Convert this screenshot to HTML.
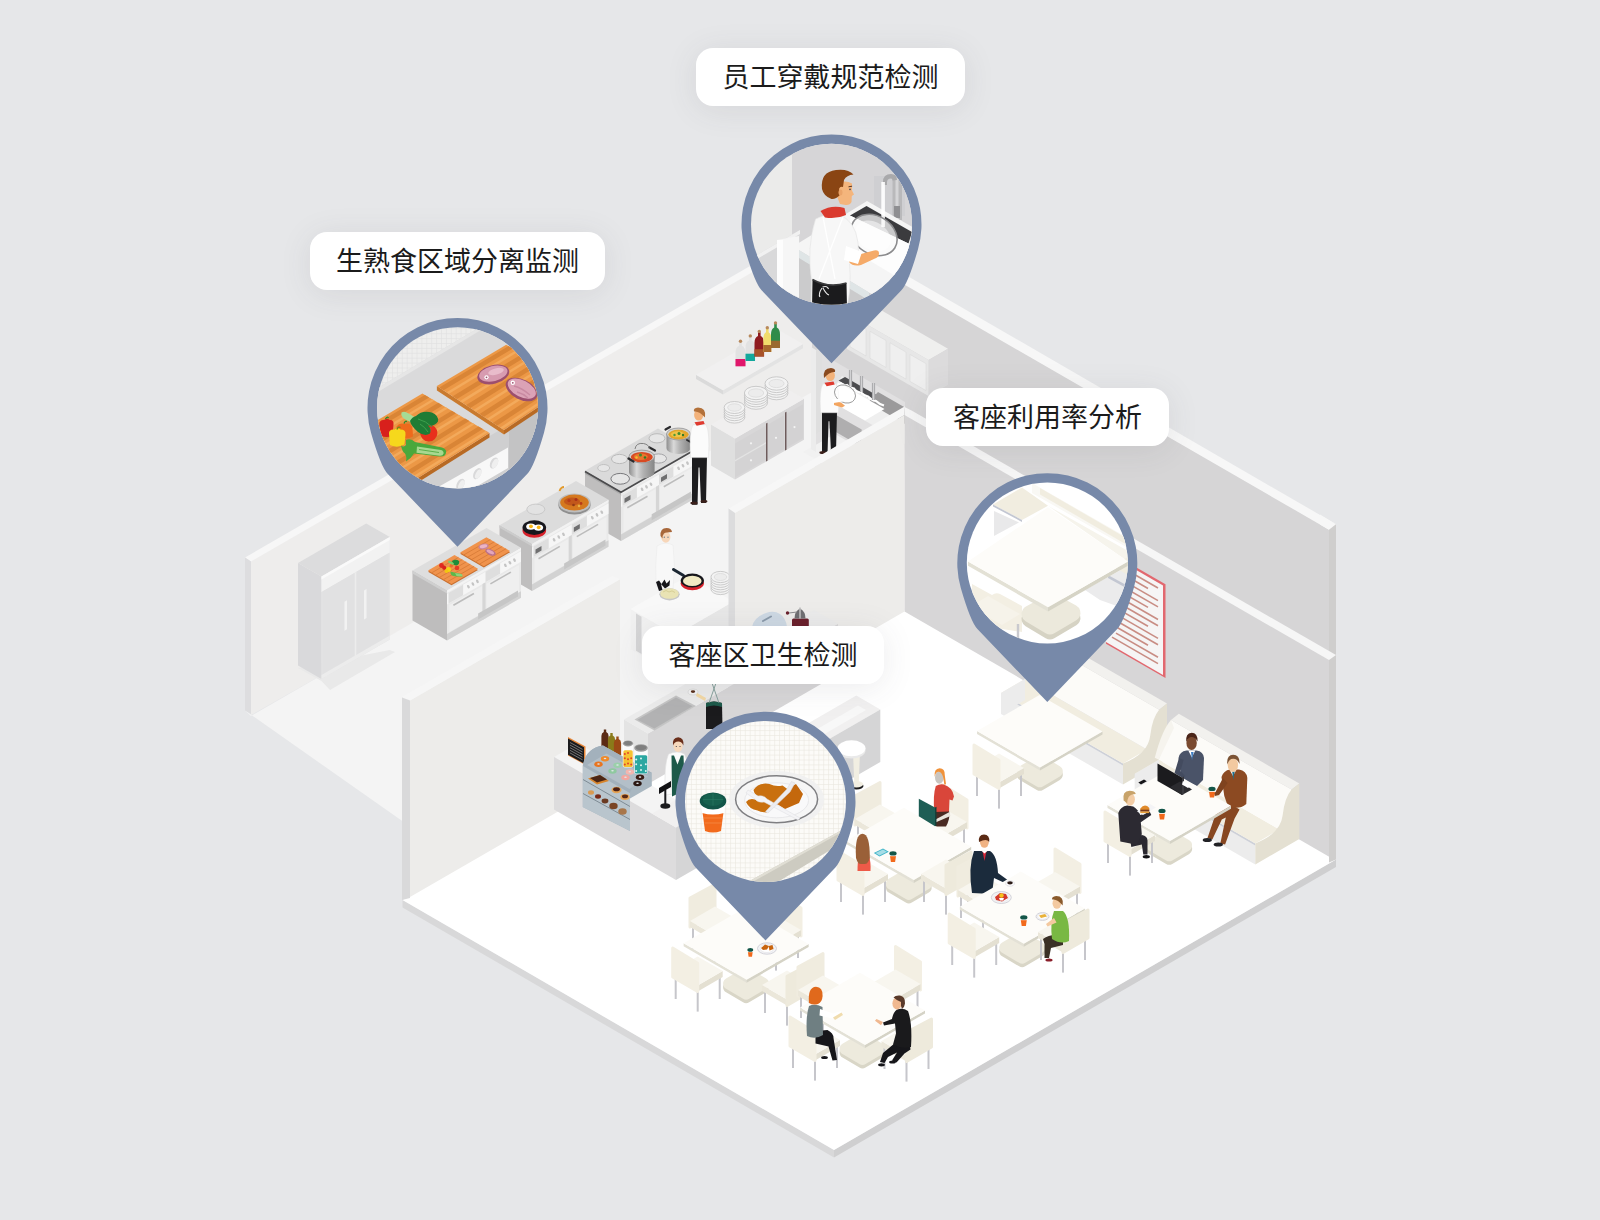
<!DOCTYPE html>
<html lang="zh-CN">
<head>
<meta charset="utf-8">
<title>智慧餐厅场景</title>
<style>
html,body{margin:0;padding:0;background:#e6e7e9;}
body{width:1600px;height:1220px;overflow:hidden;position:relative;font-family:"Liberation Sans","Noto Sans CJK SC",sans-serif;}
svg{position:absolute;left:0;top:0;display:block;}
.lb{position:absolute;height:57.5px;line-height:60.5px;border-radius:17px;background:#fff;color:#1b1b1b;font-size:27px;text-align:center;box-shadow:0 4px 32px rgba(70,72,80,.10);white-space:nowrap;letter-spacing:0;}
</style>
</head>
<body>
<svg width="1600" height="1220" viewBox="0 0 1600 1220">
<rect width="1600" height="1220" fill="#e6e7e9"/>
<polygon points="251,561 826,229.1 826,390 251,715" fill="#eeedec"/>
<polygon points="245,557.5 826,222.1 826,229.6 251,561.5" fill="#f7f7f7"/>
<polygon points="245,557.5 251,561.5 251,714 245,710.5" fill="#dddddf"/>
<polygon points="812,230.7 1331,530.3 1331,760 812,470" fill="#d6d5d6"/>
<polygon points="812,220.7 1336,524.2 1329,529.7 812,231.2" fill="#f7f7f7"/>
<polygon points="245,710.5 403,821.5 640,760 920,600 905,420 826,384 251,716" fill="#f4f4f4"/>
<g opacity="0.96">
<polygon points="298,668 321.5,681 330,690 395,652 389.8,650" fill="#e9e9e9"/>
<polygon points="321.5,679 389.8,639.6 389.8,537.1 321.5,576.5" fill="#e3e3e4"/>
<polygon points="321.5,679 298,665.4 298,562.9 321.5,576.5" fill="#d9d9db"/>
<polygon points="321.5,576.5 389.8,537.1 366.2,523.5 298,562.9" fill="#dcdcdd"/>
<polygon points="321.5,592 389.8,552.6 389.8,537.1 321.5,576.5" fill="#f3f3f3"/>
<polygon points="321.5,579.5 389.8,540.1 389.8,537.1 321.5,576.5" fill="#fbfbfb"/>
<polygon points="354.5,656.9 356.5,655.8 356.5,571.8 354.5,572.9" fill="#ececec"/>
<polygon points="322.5,675.4 354.5,656.9 354.5,572.9 322.5,591.4" fill="#e1e1e2"/>
<polygon points="356.5,655.8 388.5,637.3 388.5,553.3 356.5,571.8" fill="#e1e1e2"/>
<polygon points="344.5,630.7 347,629.3 347,600.3 344.5,601.7" fill="#f3f3f3"/>
<polygon points="364,619.5 366.5,618 366.5,589 364,590.5" fill="#f3f3f3"/>
<polygon points="321.5,679 389.8,639.6 389.8,635.6 321.5,675" fill="#ececec"/>
</g>
<polygon points="621,541 694,498.9 694,449.4 621,491.5" fill="#e9e9e9"/>
<polygon points="621,541 585,520.2 585,470.7 621,491.5" fill="#bfbebe"/>
<polygon points="621,491.5 694,449.4 658,428.6 585,470.7" fill="#dadada"/>
<polygon points="621,507 694,464.9 694,454.4 621,496.5" fill="#f6f6f6"/>
<polygon points="622.5,506.1 636.9,497.8 636.9,487.3 622.5,495.6" fill="#dedede"/>
<polygon points="624.5,503 630.5,499.5 630.5,495 624.5,498.5" fill="#6f6f70"/>
<ellipse cx="642.1" cy="489.3" rx="1.2" ry="1.9" fill="#c4c4c4" transform="rotate(-30 642.1 489.3)"/>
<ellipse cx="646.5" cy="486.8" rx="1.2" ry="1.9" fill="#c4c4c4" transform="rotate(-30 646.5 486.8)"/>
<ellipse cx="651" cy="484.2" rx="1.2" ry="1.9" fill="#c4c4c4" transform="rotate(-30 651 484.2)"/>
<polygon points="623.5,532.6 655.5,514.1 655.5,489.1 623.5,507.6" fill="#efefef"/>
<line x1="627.3" y1="507.8" x2="647.5" y2="496.2" stroke="#bcbcbc" stroke-width="1.6"/>
<polygon points="659,485.1 673.4,476.7 673.4,466.2 659,474.6" fill="#dedede"/>
<polygon points="661,481.9 667,478.4 667,473.9 661,477.4" fill="#6f6f70"/>
<ellipse cx="678.6" cy="468.3" rx="1.2" ry="1.9" fill="#c4c4c4" transform="rotate(-30 678.6 468.3)"/>
<ellipse cx="683" cy="465.7" rx="1.2" ry="1.9" fill="#c4c4c4" transform="rotate(-30 683 465.7)"/>
<ellipse cx="687.5" cy="463.1" rx="1.2" ry="1.9" fill="#c4c4c4" transform="rotate(-30 687.5 463.1)"/>
<polygon points="660,511.5 692,493 692,468 660,486.5" fill="#efefef"/>
<line x1="663.8" y1="486.8" x2="684" y2="475.1" stroke="#bcbcbc" stroke-width="1.6"/>
<polygon points="656,520.8 659,519.1 659,485.1 656,486.8" fill="#d6d6d6"/>
<polygon points="621,541 694,498.9 694,492.4 621,534.5" fill="#d2d2d2"/>
<polygon points="651.7,520.3 691,497.6 691,491.6 651.7,514.3" fill="#c6c6c6"/>
<polygon points="585,470.7 621,491.5 621,494.7 585,473.9" fill="#a9a9a9"/>
<polygon points="621,491.5 694,449.4 694,452.4 621,494.5" fill="#f0f0f0"/>
<path d="M585 471.5 L621 492.3 L694 450.2" fill="none" stroke="#4b4b4d" stroke-width="1.7"/>
<ellipse cx="603.7" cy="468" rx="6" ry="3.5" fill="#e6e6e6" stroke="#bdbdbd" stroke-width="0.9"/>
<ellipse cx="619.5" cy="459" rx="8" ry="4.6" fill="#e6e6e6" stroke="#b5b5b5" stroke-width="0.9"/>
<ellipse cx="620.2" cy="478.8" rx="9.3" ry="5.4" fill="#e6e6e6" stroke="#6d6d70" stroke-width="0.9"/>
<ellipse cx="658.5" cy="458.5" rx="8" ry="4.6" fill="#e6e6e6" stroke="#9d9da0" stroke-width="0.9"/>
<ellipse cx="657" cy="438.3" rx="8" ry="4.6" fill="#e6e6e6" stroke="#b5b5b5" stroke-width="0.9"/>
<defs><linearGradient id="potg" x1="0" x2="1" y1="0" y2="0"><stop offset="0" stop-color="#8e8e8e"/><stop offset="0.3" stop-color="#d9d9d9"/><stop offset="0.55" stop-color="#b3b3b3"/><stop offset="1" stop-color="#858585"/></linearGradient></defs>
<path d="M629 456.5 v15.5 a12.8 6.4 0 0 0 25.6 0 v-15.5 z" fill="url(#potg)"/>
<ellipse cx="641.8" cy="456.5" rx="12.8" ry="6.4" fill="#cfcfcf" stroke="#8a8a8a" stroke-width="0.7"/>
<ellipse cx="641.8" cy="457.1" rx="11" ry="5.2" fill="#d84a22"/>
<ellipse cx="640.8" cy="456.8" rx="7" ry="3.2" fill="#e8762e"/>
<circle cx="640.5" cy="455" r="1.5" fill="#3b8c2e"/>
<circle cx="645" cy="457.5" r="1.3" fill="#2f7a28"/>
<circle cx="636.5" cy="457.5" r="1.2" fill="#f1c232"/>
<path d="M628.5 458.5 l5 3" fill="none" stroke="#2b2b2d" stroke-width="2.2" stroke-linecap="round"/>
<path d="M649.5 447.5 l5.5 3" fill="none" stroke="#2b2b2d" stroke-width="2.2" stroke-linecap="round"/>
<path d="M635 449 q1 -6.5 8.5 -5.5 q5.5 1 6 5.5" fill="none" stroke="#777" stroke-width="0.9"/>
<path d="M666.5 434 v14 a12 6 0 0 0 24 0 v-14 z" fill="url(#potg)"/>
<ellipse cx="678.5" cy="434" rx="12" ry="6" fill="#cfcfcf" stroke="#8a8a8a" stroke-width="0.7"/>
<ellipse cx="678.5" cy="434.6" rx="10.2" ry="4.8" fill="#e2a62c"/>
<ellipse cx="677.5" cy="434.3" rx="6.6" ry="3" fill="#efc448"/>
<circle cx="679" cy="433.5" r="1.5" fill="#3f8c30"/>
<circle cx="683" cy="435" r="1.2" fill="#2f7a28"/>
<circle cx="674.5" cy="435" r="1.2" fill="#4c9a3a"/>
<path d="M665.5 429.5 l4.5 -2.5" fill="none" stroke="#2b2b2d" stroke-width="2.2" stroke-linecap="round"/>
<path d="M687 440 l3.5 2" fill="none" stroke="#2b2b2d" stroke-width="2" stroke-linecap="round"/>
<polygon points="532,591 608.5,546.8 608.5,499.8 532,544" fill="#e9e9e9"/>
<polygon points="532,591 499.5,572.2 499.5,525.2 532,544" fill="#bfbebe"/>
<polygon points="532,544 608.5,499.8 576,481.1 499.5,525.2" fill="#dcdcdc"/>
<polygon points="499.5,525.2 532,544 532,546.5 499.5,527.7" fill="#cccccc"/>
<polygon points="532,544 608.5,499.8 608.5,502.3 532,546.5" fill="#f2f2f2"/>
<polygon points="532,558 608.5,513.8 608.5,503.3 532,547.5" fill="#f6f6f6"/>
<polygon points="533.5,557.1 548.7,548.4 548.7,537.9 533.5,546.6" fill="#dedede"/>
<polygon points="535.5,554 541.5,550.5 541.5,546 535.5,549.5" fill="#6f6f70"/>
<ellipse cx="554.1" cy="539.8" rx="1.2" ry="1.9" fill="#c4c4c4" transform="rotate(-30 554.1 539.8)"/>
<ellipse cx="558.8" cy="537" rx="1.2" ry="1.9" fill="#c4c4c4" transform="rotate(-30 558.8 537)"/>
<ellipse cx="563.5" cy="534.3" rx="1.2" ry="1.9" fill="#c4c4c4" transform="rotate(-30 563.5 534.3)"/>
<polygon points="534.5,582.6 568.2,563.1 568.2,539.1 534.5,558.6" fill="#efefef"/>
<line x1="538.5" y1="558.7" x2="559.8" y2="546.4" stroke="#bcbcbc" stroke-width="1.6"/>
<polygon points="571.8,535.1 586.9,526.3 586.9,515.8 571.8,524.6" fill="#dedede"/>
<polygon points="573.8,531.9 579.8,528.4 579.8,523.9 573.8,527.4" fill="#6f6f70"/>
<ellipse cx="592.3" cy="517.7" rx="1.2" ry="1.9" fill="#c4c4c4" transform="rotate(-30 592.3 517.7)"/>
<ellipse cx="597" cy="514.9" rx="1.2" ry="1.9" fill="#c4c4c4" transform="rotate(-30 597 514.9)"/>
<ellipse cx="601.8" cy="512.2" rx="1.2" ry="1.9" fill="#c4c4c4" transform="rotate(-30 601.8 512.2)"/>
<polygon points="572.8,560.5 606.5,541 606.5,517 572.8,536.5" fill="#efefef"/>
<line x1="576.8" y1="536.6" x2="598.1" y2="524.4" stroke="#bcbcbc" stroke-width="1.6"/>
<polygon points="568.8,569.8 571.8,568.1 571.8,535.1 568.8,536.8" fill="#d6d6d6"/>
<polygon points="532,591 608.5,546.8 608.5,540.3 532,584.5" fill="#d2d2d2"/>
<polygon points="564.1,569.4 605.5,545.6 605.5,539.6 564.1,563.4" fill="#c6c6c6"/>
<ellipse cx="535.8" cy="509.3" rx="9" ry="5.2" fill="#e2e2e2" stroke="#c3c3c3" stroke-width="0.8"/>
<ellipse cx="534.3" cy="530.5" rx="11.8" ry="7.3" fill="#d7202a"/>
<ellipse cx="534.3" cy="527.6" rx="11.8" ry="7.3" fill="#17171c"/>
<ellipse cx="530.8" cy="526.6" rx="4.6" ry="3.2" fill="#ffffff"/>
<ellipse cx="538.5" cy="527.6" rx="4.6" ry="3.2" fill="#ffffff"/>
<circle cx="531" cy="526.3" r="1.9" fill="#f8b616"/>
<circle cx="538.7" cy="527.3" r="1.9" fill="#f8b616"/>
<path d="M559.5 491 q1.5 -4 4.5 -4" fill="none" stroke="#e29a2d" stroke-width="1.8"/>
<ellipse cx="574.5" cy="505" rx="16.2" ry="9.4" fill="#8f8f8f"/>
<ellipse cx="574.5" cy="503" rx="16.2" ry="9.4" fill="#bdbdbd"/>
<ellipse cx="574.5" cy="502.6" rx="14.3" ry="8" fill="#d5791f"/>
<ellipse cx="572" cy="501.5" rx="8" ry="4" fill="#c2571b"/>
<circle cx="569" cy="500.5" r="1.6" fill="#b63a1a"/>
<circle cx="576" cy="499.6" r="1.5" fill="#a8321a"/>
<circle cx="581" cy="503.5" r="1.4" fill="#b63a1a"/>
<circle cx="573.5" cy="505" r="1.3" fill="#8f3a16"/>
<circle cx="579" cy="506" r="1.2" fill="#e9b146"/>
<polygon points="447,640.5 521,597.8 521,547.8 447,590.5" fill="#e9e9e9"/>
<polygon points="447,640.5 412.5,620.6 412.5,570.6 447,590.5" fill="#bebdbd"/>
<polygon points="447,590.5 521,547.8 486.5,527.9 412.5,570.6" fill="#dedede"/>
<polygon points="412.5,570.6 447,590.5 447,593.5 412.5,573.6" fill="#cfcfcf"/>
<polygon points="447,590.5 521,547.8 521,550.3 447,593" fill="#f3f3f3"/>
<polygon points="447,604.5 521,561.8 521,551.3 447,594" fill="#f6f6f6"/>
<polygon points="448.5,603.6 463.1,595.2 463.1,584.7 448.5,593.1" fill="#dedede"/>
<ellipse cx="468.4" cy="586.7" rx="1.2" ry="1.9" fill="#c4c4c4" transform="rotate(-30 468.4 586.7)"/>
<ellipse cx="472.9" cy="584" rx="1.2" ry="1.9" fill="#c4c4c4" transform="rotate(-30 472.9 584)"/>
<ellipse cx="477.4" cy="581.4" rx="1.2" ry="1.9" fill="#c4c4c4" transform="rotate(-30 477.4 581.4)"/>
<polygon points="449.5,632.1 482,613.3 482,586.3 449.5,605.1" fill="#efefef"/>
<line x1="453.4" y1="605.3" x2="473.9" y2="593.5" stroke="#bcbcbc" stroke-width="1.6"/>
<polygon points="485.5,582.3 500.1,573.8 500.1,563.3 485.5,571.8" fill="#dedede"/>
<ellipse cx="505.4" cy="565.3" rx="1.2" ry="1.9" fill="#c4c4c4" transform="rotate(-30 505.4 565.3)"/>
<ellipse cx="509.9" cy="562.7" rx="1.2" ry="1.9" fill="#c4c4c4" transform="rotate(-30 509.9 562.7)"/>
<ellipse cx="514.5" cy="560.1" rx="1.2" ry="1.9" fill="#c4c4c4" transform="rotate(-30 514.5 560.1)"/>
<polygon points="486.5,610.7 519,591.9 519,564.9 486.5,583.7" fill="#efefef"/>
<line x1="490.4" y1="583.9" x2="510.9" y2="572.1" stroke="#bcbcbc" stroke-width="1.6"/>
<polygon points="482.5,620 485.5,618.3 485.5,582.3 482.5,584" fill="#d6d6d6"/>
<polygon points="447,640.5 521,597.8 521,591.3 447,634" fill="#d2d2d2"/>
<polygon points="478.1,619.6 518,596.5 518,590.5 478.1,613.6" fill="#c6c6c6"/>
<polygon points="451.5,585.3 478,570 454.5,556.4 428,571.7" fill="#c9702f"/>
<polygon points="451.5,584 478,568.7 454.5,555.1 428,570.4" fill="#f0934c"/>
<line x1="447.6" y1="581.7" x2="474.1" y2="566.4" stroke="#d87c38" stroke-width="0.9"/>
<line x1="443.7" y1="579.5" x2="470.2" y2="564.2" stroke="#d87c38" stroke-width="0.9"/>
<line x1="439.8" y1="577.2" x2="466.2" y2="561.9" stroke="#d87c38" stroke-width="0.9"/>
<line x1="435.8" y1="575" x2="462.3" y2="559.7" stroke="#d87c38" stroke-width="0.9"/>
<line x1="431.9" y1="572.7" x2="458.4" y2="557.4" stroke="#d87c38" stroke-width="0.9"/>
<polygon points="483.8,567.5 510.1,552.3 486.4,538.6 460.1,553.8" fill="#c9702f"/>
<polygon points="483.8,566.2 510.1,551 486.4,537.3 460.1,552.5" fill="#f0934c"/>
<line x1="479.8" y1="563.9" x2="506.1" y2="548.7" stroke="#d87c38" stroke-width="0.9"/>
<line x1="475.9" y1="561.6" x2="502.2" y2="546.5" stroke="#d87c38" stroke-width="0.9"/>
<line x1="471.9" y1="559.4" x2="498.2" y2="544.2" stroke="#d87c38" stroke-width="0.9"/>
<line x1="467.9" y1="557.1" x2="494.2" y2="541.9" stroke="#d87c38" stroke-width="0.9"/>
<line x1="464" y1="554.8" x2="490.3" y2="539.6" stroke="#d87c38" stroke-width="0.9"/>
<circle cx="441.5" cy="565.5" r="2.4" fill="#e02a20"/>
<circle cx="444.2" cy="567.8" r="2.1" fill="#d8241c"/>
<circle cx="448.5" cy="569.5" r="2.5" fill="#f6d313"/>
<circle cx="446.5" cy="571" r="2" fill="#f2c511"/>
<circle cx="457" cy="568" r="2.3" fill="#e63a25"/>
<circle cx="451.3" cy="565.8" r="1.7" fill="#f06a2a"/>
<path d="M452 561 q4 -2.5 7 0 q1 3 -2.5 4.5 q-3.5 0 -4.5 -4.5z" fill="#1f8c3a"/>
<path d="M449 560.5 l5 2.8 l-1.2 1.8 l-5 -3z" fill="#7ccf6a"/>
<path d="M450.5 571.5 q4 1 11 2.5 l1 2.6 q-6 0 -9.5 -0.5 q-3 -1.5 -2.5 -4.6z" fill="#5bb84a"/>
<path d="M455 573 l7 1.3 l0.6 2 l-6 -0.4z" fill="#8ed27a"/>
<ellipse cx="483.5" cy="546.5" rx="5.3" ry="2.9" fill="#c9849b" transform="rotate(-12 483.5 546.5)"/>
<ellipse cx="483.5" cy="546.3" rx="3.8" ry="1.8" fill="#eab4c4" transform="rotate(-12 483.5 546.3)"/>
<ellipse cx="490.5" cy="552.3" rx="5.6" ry="2.9" fill="#b9718c" transform="rotate(24 490.5 552.3)"/>
<ellipse cx="490.3" cy="552" rx="4" ry="1.7" fill="#e3a6ba" transform="rotate(24 490.3 552)"/>
<polygon points="723,394.5 803,348.3 803,344.1 723,390.3" fill="#e3e3e3"/>
<polygon points="723,394.5 696,378.9 696,374.7 723,390.3" fill="#dadada"/>
<polygon points="723,390.3 803,344.1 776,328.5 696,374.7" fill="#f1f0f0"/>
<path d="M735.5 366.3 v-13.5 q0 -5.4 3.7 -7 v-3.8 h2.6 v3.8 q3.7 1.6 3.7 7 v13.5 z" fill="#e2e2e2"/>
<path d="M735.5 366.3 v-7.3 h10 v7.3 z" fill="#e0176b"/>
<circle cx="740.5" cy="341.2" r="1.7" fill="#b8895c"/>
<path d="M745.5 361 v-13.5 q0 -5.4 3.5 -7 v-3.8 h2.6 v3.8 q3.5 1.6 3.5 7 v13.5 z" fill="#e2e2e2"/>
<path d="M745.5 361 v-7.3 h9.5 v7.3 z" fill="#13a89c"/>
<circle cx="750.3" cy="335.9" r="1.7" fill="#b8895c"/>
<path d="M754.5 356.5 v-13.5 q0 -5.4 3.5 -7 v-3.8 h2.6 v3.8 q3.5 1.6 3.5 7 v13.5 z" fill="#8f1b20"/>
<path d="M754.5 356.5 v-7.3 h9.5 v7.3 z" fill="#a8522a"/>
<circle cx="759.3" cy="331.4" r="1.7" fill="#b8895c"/>
<path d="M763.3 352 v-13 q0 -5.2 2.7 -6.8 v-3.6 h2.6 v3.6 q2.7 1.6 2.7 6.8 v13 z" fill="#f1dc6c"/>
<path d="M763.3 352 v-7 h8 v7 z" fill="#a8692e"/>
<circle cx="767.3" cy="327.8" r="1.7" fill="#b8895c"/>
<path d="M771 348 v-13.5 q0 -5.4 3.2 -7 v-3.8 h2.6 v3.8 q3.2 1.6 3.2 7 v13.5 z" fill="#2f8c4a"/>
<path d="M771 348 v-7.3 h9 v7.3 z" fill="#9a6a30"/>
<circle cx="775.5" cy="322.9" r="1.7" fill="#b8895c"/>
<polygon points="735,479.5 804,439.7 804,398.7 735,438.5" fill="#d8d7d8"/>
<polygon points="735,479.5 711,465.6 711,424.6 735,438.5" fill="#dfdfdf"/>
<polygon points="735,438.5 804,398.7 780,384.8 711,424.6" fill="#f0efef"/>
<polygon points="735,477.5 766,459.6 766,425.6 735,443.5" fill="#d4d3d4"/>
<polygon points="735,461.5 766,443.6 766,442.1 735,460" fill="#e3e3e3"/>
<polygon points="767.5,458.7 784,449.2 784,415.2 767.5,424.7" fill="#d3d2d3"/>
<polygon points="786.5,447.8 803,438.2 803,404.2 786.5,413.8" fill="#d3d2d3"/>
<polygon points="766,461.6 767.5,460.7 767.5,422.7 766,423.6" fill="#6e5c5c"/>
<polygon points="785,450.6 786.5,449.8 786.5,411.8 785,412.6" fill="#6e5c5c"/>
<circle cx="751" cy="443.3" r="1.1" fill="#f4f4f4"/>
<circle cx="751" cy="460.3" r="1.1" fill="#f4f4f4"/>
<circle cx="776" cy="437.8" r="1.1" fill="#f4f4f4"/>
<circle cx="794.5" cy="427.1" r="1.1" fill="#f4f4f4"/>
<ellipse cx="776.5" cy="393.1" rx="11.5" ry="6.7" fill="#f3f3f3" stroke="#b9b9b9" stroke-width="0.7"/>
<ellipse cx="776.5" cy="390.7" rx="11.5" ry="6.7" fill="#f3f3f3" stroke="#b9b9b9" stroke-width="0.7"/>
<ellipse cx="776.5" cy="388.3" rx="11.5" ry="6.7" fill="#f3f3f3" stroke="#b9b9b9" stroke-width="0.7"/>
<ellipse cx="776.5" cy="385.9" rx="11.5" ry="6.7" fill="#f3f3f3" stroke="#b9b9b9" stroke-width="0.7"/>
<ellipse cx="776.5" cy="383.5" rx="11.5" ry="6.7" fill="#f3f3f3" stroke="#b9b9b9" stroke-width="0.7"/>
<ellipse cx="776.5" cy="383.5" rx="7.6" ry="4.1" fill="#ececec" stroke="#cfcfcf" stroke-width="0.5"/>
<ellipse cx="756" cy="402.6" rx="11.6" ry="6.7" fill="#f3f3f3" stroke="#b9b9b9" stroke-width="0.7"/>
<ellipse cx="756" cy="400.2" rx="11.6" ry="6.7" fill="#f3f3f3" stroke="#b9b9b9" stroke-width="0.7"/>
<ellipse cx="756" cy="397.8" rx="11.6" ry="6.7" fill="#f3f3f3" stroke="#b9b9b9" stroke-width="0.7"/>
<ellipse cx="756" cy="395.4" rx="11.6" ry="6.7" fill="#f3f3f3" stroke="#b9b9b9" stroke-width="0.7"/>
<ellipse cx="756" cy="393" rx="11.6" ry="6.7" fill="#f3f3f3" stroke="#b9b9b9" stroke-width="0.7"/>
<ellipse cx="756" cy="393" rx="7.7" ry="4.2" fill="#ececec" stroke="#cfcfcf" stroke-width="0.5"/>
<ellipse cx="734.5" cy="417.1" rx="10.4" ry="6" fill="#f3f3f3" stroke="#b9b9b9" stroke-width="0.7"/>
<ellipse cx="734.5" cy="414.7" rx="10.4" ry="6" fill="#f3f3f3" stroke="#b9b9b9" stroke-width="0.7"/>
<ellipse cx="734.5" cy="412.3" rx="10.4" ry="6" fill="#f3f3f3" stroke="#b9b9b9" stroke-width="0.7"/>
<ellipse cx="734.5" cy="409.9" rx="10.4" ry="6" fill="#f3f3f3" stroke="#b9b9b9" stroke-width="0.7"/>
<ellipse cx="734.5" cy="407.5" rx="10.4" ry="6" fill="#f3f3f3" stroke="#b9b9b9" stroke-width="0.7"/>
<ellipse cx="734.5" cy="407.5" rx="6.9" ry="3.7" fill="#ececec" stroke="#cfcfcf" stroke-width="0.5"/>
<path d="M692 455.8 l15 0 l-1 47.2 l-5 0 l-1.5 -35.6 l-1 0 l-1 37.4 l-5.5 0 z" fill="#1c1c1e"/>
<ellipse cx="694" cy="503" rx="3.6" ry="1.5" fill="#3a1f1a"/>
<ellipse cx="704" cy="501.5" rx="3.4" ry="1.4" fill="#3a1f1a"/>
<path d="M690.5 457.6 q-1.5 -26.7 2.5 -32.9 l13 0 q4 6.2 2.5 32.9 l-1 0 l-17 0 z" fill="#fbfbfb" stroke="#dcdcdc" stroke-width="0.5"/>
<path d="M694.5 422.2 l9 -1.3 l1.2 3.2 l-8 1.6 z" fill="#df3a2f"/>
<ellipse cx="698.7" cy="415" rx="4.6" ry="5.6" fill="#f3b27a"/>
<path d="M705 417.5 q1.5 -10 -7 -10 q-5 0.5 -4 4 q5 -1 11 6 z" fill="#b3713a"/>
<polygon points="815,350 905,402 905,470 815,470" fill="#e1e0e1"/>
<polygon points="803,452 835,434 905,474 873,492" fill="#f1f1f1"/>
<polygon points="847,313 928.5,360 948,348.7 866.5,301.7" fill="#efefee"/>
<polygon points="928.5,360 948,348.7 948,384.7 928.5,396" fill="#dcdbdc"/>
<polygon points="847,313 928.5,360 928.5,396 847,349" fill="#e7e7e7"/>
<polygon points="850,319.7 866,329 866,356 850,346.7" fill="#efefef" stroke="#dadada" stroke-width="0.6"/>
<polygon points="870,331.3 886,340.5 886,367.5 870,358.3" fill="#efefef" stroke="#dadada" stroke-width="0.6"/>
<polygon points="890,342.8 906,352.1 906,379.1 890,369.8" fill="#efefef" stroke="#dadada" stroke-width="0.6"/>
<polygon points="910,354.4 926,363.6 926,390.6 910,381.4" fill="#efefef" stroke="#dadada" stroke-width="0.6"/>
<polygon points="811,347 816,350 816,452 811,449" fill="#ececec"/>
<polygon points="816,350 822,346.5 822,430 816,434" fill="#dfdfdf"/>
<polygon points="826,398 842,376 905,412.5 905,444" fill="#efefef"/>
<polygon points="838.5,380.5 845,377 905,411.5 905,419" fill="#4c4c4f"/>
<polygon points="878,392 905,407.5 905,424 868,402.5" fill="#9b9a9b"/>
<polygon points="838,382.5 884.5,409 865,420.5 830,401" fill="#ffffff"/>
<path d="M840 383 q4 3 7 2 q3 3 7 3.5 q2 3.5 7 4 q3 3 7 4 q3 3.5 8 4.5 q3 3 8 4.5" fill="none" stroke="#ffffff" stroke-width="2.2"/>
<polygon points="829,411 861.7,429.5 861.7,447 829,428" fill="#afaeaf"/>
<polygon points="829,411 833,408.8 833,426 829,428" fill="#c9c9c9"/>
<rect x="848.9" y="370" width="3.2" height="16" fill="#a9a9ab"/>
<rect x="849.9" y="370" width="1.2" height="16" fill="#d2d2d4"/>
<rect x="859.9" y="376" width="3.2" height="16" fill="#a9a9ab"/>
<rect x="860.9" y="376" width="1.2" height="16" fill="#d2d2d4"/>
<rect x="871.9" y="383" width="3.2" height="17" fill="#a9a9ab"/>
<rect x="872.9" y="383" width="1.2" height="17" fill="#d2d2d4"/>
<path d="M822 411.2 l15 0 l-1 41.3 l-5 0 l-1.5 -31.2 l-1 0 l-1 32.8 l-5.5 0 z" fill="#1c1c1e"/>
<ellipse cx="823" cy="452.5" rx="3.6" ry="1.5" fill="#3a1f1a"/>
<ellipse cx="833" cy="451" rx="3.4" ry="1.4" fill="#3a1f1a"/>
<path d="M820.5 412.7 q-1.5 -23.4 2.5 -28.9 l13 0 q4 5.5 2.5 28.9 l-1 0 l-17 0 z" fill="#fbfbfb" stroke="#dcdcdc" stroke-width="0.5"/>
<path d="M824.5 382.7 l9 -1.3 l1.2 3.2 l-8 1.6 z" fill="#df3a2f"/>
<ellipse cx="830.3" cy="375.5" rx="4.6" ry="5.6" fill="#f3b27a"/>
<path d="M824 378 q-1.5 -10 7 -10 q5 0.5 4 4 q-5 -1 -11 6 z" fill="#8a4a1f"/>
<ellipse cx="845" cy="394" rx="11" ry="8.5" fill="rgba(255,255,255,0.55)" stroke="#8d8d8d" stroke-width="0.8" transform="rotate(28 845 394)"/>
<path d="M834 401 l7 1.5 l4 3.2 l-3 1.8 l-8 -2.5z" fill="#f3a560"/>
<path d="M832 399.5 l9.5 -1 l1.5 3 l-9.5 1.5z" fill="#ffffff"/>
<polygon points="675.5,675 733.5,641.5 733.5,601.5 675.5,635" fill="#e8e8e8"/>
<polygon points="675.5,675 630.5,649 630.5,609 675.5,635" fill="#f1f1f1"/>
<polygon points="675.5,635 733.5,601.5 688.5,575.5 630.5,609" fill="#f8f8f8"/>
<polygon points="636,613.5 641.5,616.7 641.5,654 636,650.8" fill="#d6d6d7"/>
<path d="M657 546 q-2 18 -1 40 l17 3 q3 -22 0 -44 q-8 -4 -16 1z" fill="#f8f8f8" stroke="#ebebeb" stroke-width="0.6"/>
<ellipse cx="665.8" cy="537" rx="4.6" ry="5.8" fill="#f7d6b9"/>
<path d="M660.5 536 q-0.5 -8 6 -8 q5 0 5.5 4 q-6 0 -8 1.5 q-1.5 1.5 -1.5 5 z" fill="#a8673a"/>
<circle cx="664.3" cy="537.2" r="0.6" fill="#4a6a80"/>
<circle cx="668" cy="537.2" r="0.6" fill="#4a6a80"/>
<path d="M656 582 l3 9 l3.5 -1 l-1.5 -6 l4 4.5 l4.5 -3 l0.5 -5.5 l-3.5 3.5 l-2 -4 l-3 4.5 l-2.5 -3.5z" fill="#16161a"/>
<ellipse cx="669.5" cy="594.3" rx="10.2" ry="6.1" fill="#c7c7c7"/>
<ellipse cx="669.5" cy="593.5" rx="9.2" ry="5.3" fill="#e9e3b4"/>
<path d="M663 592 q3 -3 6 0 q3 -2.5 6 0.5" fill="none" stroke="#d2c98e" stroke-width="0.8"/>
<path d="M673.5 569.5 l10 6" fill="none" stroke="#1c2733" stroke-width="3" stroke-linecap="round"/>
<ellipse cx="692.3" cy="583.3" rx="11.6" ry="7" fill="#d7202a"/>
<ellipse cx="692.3" cy="580.6" rx="11.6" ry="7" fill="#17171c"/>
<ellipse cx="692.3" cy="580.9" rx="9.3" ry="5.2" fill="#f1eac4"/>
<ellipse cx="720.5" cy="589" rx="9.6" ry="5.6" fill="#f3f3f3" stroke="#b9b9b9" stroke-width="0.7"/>
<ellipse cx="720.5" cy="586.6" rx="9.6" ry="5.6" fill="#f3f3f3" stroke="#b9b9b9" stroke-width="0.7"/>
<ellipse cx="720.5" cy="584.2" rx="9.6" ry="5.6" fill="#f3f3f3" stroke="#b9b9b9" stroke-width="0.7"/>
<ellipse cx="720.5" cy="581.8" rx="9.6" ry="5.6" fill="#f3f3f3" stroke="#b9b9b9" stroke-width="0.7"/>
<ellipse cx="720.5" cy="579.4" rx="9.6" ry="5.6" fill="#f3f3f3" stroke="#b9b9b9" stroke-width="0.7"/>
<ellipse cx="720.5" cy="577" rx="9.6" ry="5.6" fill="#f3f3f3" stroke="#b9b9b9" stroke-width="0.7"/>
<ellipse cx="720.5" cy="577" rx="6.3" ry="3.5" fill="#ececec" stroke="#cfcfcf" stroke-width="0.5"/>
<polygon points="402.5,900 834,1150 834,1157.5 402.5,907.5" fill="#d8d8d9"/>
<polygon points="834,1150 1336,859.5 1336,867 834,1157.5" fill="#cfcfd0"/>
<polygon points="402.5,900 834,1150 1336,859.5 904.5,609.5" fill="#ffffff"/>
<polygon points="904.5,415 1330,660.7 1330,857.2 904.5,611.5" fill="#d7d6d7"/>
<polygon points="1329,521.2 1336,524.2 1336,859.5 1329,862.5" fill="#cfcecd"/>
<polygon points="1320,514.6 1336,524.2 1329,529.7 1320,524.5" fill="#f7f7f7"/>
<polygon points="904.5,415 1329,660.1 1336,655.1 912,410.8 905,407.3" fill="#f6f6f6"/>
<polygon points="735,512.9 904.5,415 904.5,611.5 735,709.4" fill="#edecea"/>
<polygon points="728.5,508.6 735,504.9 905,406.2 904.5,415 735,512.9" fill="#f7f7f7"/>
<polygon points="728.5,508.6 735,512.9 735,709.4 728.5,705.1" fill="#dcdcdd"/>
<polygon points="410,700.5 620,579.3 620,775.8 410,897" fill="#edecea"/>
<polygon points="402,697.1 612,575.9 620,579.3 410,700.5" fill="#f6f6f6"/>
<polygon points="402,697.6 410,700.5 410,898 402,900" fill="#d9d9da"/>
<polygon points="1106,550 1165.5,584.3 1165.5,678 1106,643.7" fill="#e2686f"/>
<polygon points="1106,552.5 1163,585.4 1163,675 1106,642" fill="#f6f5f5"/>
<line x1="1112" y1="561.5" x2="1158" y2="588" stroke="#c98d84" stroke-width="1.6"/>
<line x1="1112" y1="567.8" x2="1148" y2="588.5" stroke="#c98d84" stroke-width="1.6"/>
<line x1="1112" y1="574.1" x2="1158" y2="600.6" stroke="#c98d84" stroke-width="1.6"/>
<line x1="1116" y1="582.7" x2="1158" y2="606.9" stroke="#c98d84" stroke-width="1.6"/>
<line x1="1112" y1="586.7" x2="1148" y2="607.4" stroke="#c98d84" stroke-width="1.6"/>
<line x1="1112" y1="593" x2="1158" y2="619.5" stroke="#c98d84" stroke-width="1.6"/>
<line x1="1112" y1="599.3" x2="1158" y2="625.8" stroke="#c98d84" stroke-width="1.6"/>
<line x1="1116" y1="607.9" x2="1148" y2="626.3" stroke="#c98d84" stroke-width="1.6"/>
<line x1="1112" y1="611.9" x2="1158" y2="638.4" stroke="#c98d84" stroke-width="1.6"/>
<line x1="1112" y1="618.2" x2="1158" y2="644.7" stroke="#c98d84" stroke-width="1.6"/>
<line x1="1112" y1="624.5" x2="1148" y2="645.2" stroke="#c98d84" stroke-width="1.6"/>
<line x1="1116" y1="633.1" x2="1158" y2="657.3" stroke="#c98d84" stroke-width="1.6"/>
<line x1="1112" y1="637.1" x2="1158" y2="663.6" stroke="#c98d84" stroke-width="1.6"/>
<polygon points="1001,693 1123,763.4 1123,784.4 1001,714" fill="#ececec"/>
<polygon points="1001,693 1123,763.4 1123,765.4 1001,695" fill="#cdd0d8"/>
<polygon points="1025,679 1147,749.4 1123,763.4 1001,693" fill="#f1ede0"/>
<polygon points="1037.2,639.2 1159.2,709.7 1147,749.4 1025,679" fill="#fcfbf8"/>
<polygon points="1045,633 1167,703.4 1159.2,709.7 1037.2,639.2" fill="#f2f1ee"/>
<path d="M1167 703.4 L1159.2 709.7 Q1152.2 717.7 1150.2 735.7 T1123 763.4 L1123 784.4 L1167 759 Z" fill="#e4e0d2"/>
<polygon points="1025,679 1001,693 1001,714 1025,700" fill="#ececec"/>
<polygon points="1022.8,774.8 1039.8,784.8 1056.8,774.8 1039.8,764.8" fill="#d9d6c7" stroke="#d9d6c7" stroke-width="12" stroke-linejoin="round"/>
<polygon points="1022.8,771.3 1039.8,781.3 1056.8,771.3 1039.8,761.3" fill="#edeadd" stroke="#edeadd" stroke-width="12" stroke-linejoin="round"/>
<polygon points="977,731.1 1040,767.5 1040,770.5 977,734.1" fill="#e3e1d6"/>
<polygon points="1040,767.5 1102.5,731.4 1102.5,734.4 1040,770.5" fill="#d5d3c6"/>
<polygon points="1040,767.5 1102.5,731.4 1039.5,695 977,731.1" fill="#fdfcf9"/>
<rect x="998" y="759.4" width="2" height="24" fill="#c6c6cb"/>
<rect x="976" y="772" width="2" height="24" fill="#c6c6cb"/>
<rect x="1020" y="772" width="2" height="24" fill="#c6c6cb"/>
<rect x="998" y="784.6" width="2" height="24" fill="#c6c6cb"/>
<polygon points="974,774 999,788.4 999,782.4 974,768" fill="#ebe7da"/>
<polygon points="999,788.4 1024,774 1024,768 999,782.4" fill="#e4e0d2"/>
<polygon points="974,768 999,782.4 1024,768 999,753.6" fill="#f8f6ef"/>
<polygon points="974,774 999,788.4 999,760.4 974,745" fill="#f3efe3" stroke="#f3efe3" stroke-width="3" stroke-linejoin="round"/>
<polygon points="1134.8,773.8 1255.3,843.4 1255.3,864.4 1134.8,794.8" fill="#ececec"/>
<polygon points="1134.8,773.8 1255.3,843.4 1255.3,845.4 1134.8,775.8" fill="#cdd0d8"/>
<polygon points="1158.8,759.8 1279.3,829.4 1255.3,843.4 1134.8,773.8" fill="#f1ede0"/>
<polygon points="1171,720 1291.6,789.6 1279.3,829.4 1158.8,759.8" fill="#fcfbf8"/>
<polygon points="1178.8,713.8 1299.3,783.4 1291.6,789.6 1171,720" fill="#f2f1ee"/>
<path d="M1299.3 783.4 L1291.6 789.6 Q1284.6 797.6 1282.6 815.6 T1255.3 843.4 L1255.3 864.4 L1299.3 839 Z" fill="#e4e0d2"/>
<path d="M1171 720 Q1162 730 1154.8 757.8 L1158.8 759.8 L1174 728 Z" fill="#f6f4ee"/>
<polygon points="1158.8,759.8 1134.8,773.8 1134.8,794.8 1158.8,780.8" fill="#ececec"/>
<path d="M1178.5 758 q1 -6.5 8 -7.5 l10 0 q7 1 7.5 7.5 l-1 22 l-6 6 l-15 -7 z" fill="#4a5368"/>
<path d="M1179 758 l-4.5 15 l6.5 6 l4 -3 l-4.5 -5 l3 -11z" fill="#434b5f"/>
<path d="M1188.3 750.5 l3.5 7 l3.5 -7z" fill="#ffffff"/>
<path d="M1191 752 l1 8.5 l1.6 -8.5z" fill="#3f7fc4"/>
<ellipse cx="1191.6" cy="743" rx="5.2" ry="7" fill="#7a4a30"/>
<path d="M1186.2 742 q-0.8 -9 5.4 -9.3 q6.2 0 6 8.8 q-2.5 -4.5 -6 -4.5 q-3.5 0 -5.4 5z" fill="#4a2418"/>
<path d="M1229 803 l-13 10 l-8.5 25 l4.8 1.6 l9.5 -20 l4 -2 l-5.5 26 l4.8 1 l9.5 -26 l5 -9z" fill="#874721"/>
<ellipse cx="1207.3" cy="840" rx="4.6" ry="2" fill="#222226"/>
<ellipse cx="1218.3" cy="844.6" rx="4.6" ry="2" fill="#222226"/>
<path d="M1221.5 777 q2 -6.5 8.5 -7.5 l9 0 q7.5 1 8.3 8.5 l-1 26 q-8 6.5 -18.5 2 l-3.5 -10z" fill="#8c4a22"/>
<path d="M1223 778 l-7.5 14 l-1.6 1 l1 3 l4.2 -1 l8.5 -12z" fill="#7f431f"/>
<path d="M1229.8 770 l3.2 6 l3.2 -6z" fill="#ffffff"/>
<path d="M1232.2 771.5 l1 8.5 l1.6 -8.5z" fill="#1f6f8a"/>
<ellipse cx="1232.9" cy="765" rx="5.2" ry="7" fill="#f2c9a0"/>
<path d="M1227.3 764.5 q-1 -9.5 5.8 -9.8 q7 0 6.4 9.3 q-2 -5.2 -6.4 -5.2 q-4 0 -5.8 5.7z" fill="#7a5234"/>
<polygon points="1152.2,848.8 1169.2,858.8 1186.2,848.8 1169.2,838.8" fill="#d9d6c7" stroke="#d9d6c7" stroke-width="12" stroke-linejoin="round"/>
<polygon points="1152.2,845.3 1169.2,855.3 1186.2,845.3 1169.2,835.3" fill="#edeadd" stroke="#edeadd" stroke-width="12" stroke-linejoin="round"/>
<polygon points="1107.5,804.9 1170,841 1170,844 1107.5,807.9" fill="#e3e1d6"/>
<polygon points="1170,841 1231,805.8 1231,808.8 1170,844" fill="#d5d3c6"/>
<polygon points="1170,841 1231,805.8 1168.5,769.7 1107.5,804.9" fill="#fdfcf9"/>
<polygon points="1157.5,763.5 1182,777.5 1182,795 1157.5,781" fill="#1b1b1e"/>
<polygon points="1182,795 1192,789.5 1180,781.5 1170,787" fill="#2b2b2f"/>
<polygon points="1182,777.5 1184,776.5 1184,794 1182,795" fill="#3a3a3f"/>
<path d="M1183 781 l8 4.5 l-3 2.5 l-6 -3.5z" fill="#ffffff"/>
<path d="M1209 791.5 l6 0 l-0.9 6 l-4.2 0 z" fill="#f26a1c"/>
<rect x="1208.6" y="789.1" width="6.8" height="2.6" fill="#ffffff"/>
<ellipse cx="1212" cy="788.9" rx="3.6" ry="2.2" fill="#125548"/>
<path d="M1159 813.5 l6 0 l-0.9 6 l-4.2 0 z" fill="#f26a1c"/>
<rect x="1158.6" y="811.1" width="6.8" height="2.6" fill="#ffffff"/>
<ellipse cx="1162" cy="810.9" rx="3.6" ry="2.2" fill="#125548"/>
<rect x="1129" y="826.4" width="2" height="24" fill="#c6c6cb"/>
<rect x="1107" y="839" width="2" height="24" fill="#c6c6cb"/>
<rect x="1151" y="839" width="2" height="24" fill="#c6c6cb"/>
<rect x="1129" y="851.6" width="2" height="24" fill="#c6c6cb"/>
<polygon points="1105,841 1130,855.4 1130,849.4 1105,835" fill="#ebe7da"/>
<polygon points="1130,855.4 1155,841 1155,835 1130,849.4" fill="#e4e0d2"/>
<polygon points="1105,835 1130,849.4 1155,835 1130,820.6" fill="#f8f6ef"/>
<polygon points="1105,841 1130,855.4 1130,827.4 1105,812" fill="#f3efe3" stroke="#f3efe3" stroke-width="3" stroke-linejoin="round"/>
<path d="M1130 838.5 l12 -3.5 q5.5 1 5.5 5.5 l0 14 l-4.2 0 l-1.5 -10 l-10.5 2.5z" fill="#2a2830"/>
<ellipse cx="1146.3" cy="856.8" rx="3.6" ry="1.7" fill="#111114"/>
<path d="M1118.3 813 q2 -6.5 9 -7.5 l6 1 q5 3 7 8.5 l9.5 -3.2 l1.5 3.2 l-10.5 7.2 l1 12 l-5 10.5 l-16.5 -3.2z" fill="#2c2a32"/>
<ellipse cx="1130" cy="799.3" rx="4.9" ry="6.4" fill="#f3cda6"/>
<path d="M1123.6 800.5 q-1.6 -9.5 6 -9.8 q5.2 0 6.2 3.2 q-5.2 0 -7.2 3 q-1.6 3 -1.4 6.4z" fill="#c8a36a"/>
<polygon points="1137,811.5 1150,804 1156,807.5 1143,815" fill="#f4f4f6"/>
<path d="M1140.3 808.5 q4.5 -5.5 9 -0.5 l0 2.2 l-9 0z" fill="#e08a2a"/>
<rect x="1140.3" y="809.7" width="9" height="2" fill="#7a3a1a"/>
<rect x="1140.3" y="811.5" width="9" height="1.6" fill="#e9a13a"/>
<polygon points="1138.3,782.5 1144,779.5 1146.8,781.3 1141,784.5" fill="#16161a"/>
<polygon points="648,784 838,674.3 838,623.8 648,733.5" fill="#d8d7d8"/>
<polygon points="648,784 624,770.1 624,719.6 648,733.5" fill="#e4e4e4"/>
<polygon points="648,733.5 838,623.8 814,609.9 624,719.6" fill="#ebebeb"/>
<polygon points="634.5,719.5 676,695.5 696,706 654.5,730.5" fill="#c4c4c4"/>
<polygon points="637.5,719.7 676,697.6 692.5,706.3 654.3,728.4" fill="#b2b2b3"/>
<ellipse cx="693" cy="692" rx="5" ry="2.9" fill="#f4f4f4" stroke="#cfcfcf" stroke-width="0.6"/>
<ellipse cx="693" cy="691.6" rx="2.2" ry="1.3" fill="#5a2f1c"/>
<path d="M752 627 q2 -10 14 -14 q8 -3 14 1 q6 4 7 13z" fill="#cdd8e3"/>
<path d="M763 621 l8 -4.500" fill="none" stroke="#8a9aaa" stroke-width="2" stroke-linecap="round"/>
<rect x="792" y="618.5" width="16.8" height="9" fill="#6a1f2b" rx="1.5"/>
<path d="M794.5 618.5 q0 -7 5.500 -10 q5.500 3 5.500 10z" fill="#6f6f72"/>
<rect x="799.2" y="607.5" width="1.6" height="11" fill="#bdbdbf"/>
<path d="M797 612 l-8 1" fill="none" stroke="#8a8a8c" stroke-width="1"/>
<circle cx="787.5" cy="613" r="1.7" fill="#6a1f2b"/>
<path d="M706 703 q8 -3 16 0 l0.5 26 l-16.5 0z" fill="#1b1b1d"/>
<path d="M706 703 q8 -3 16 0 l0 4 q-8 -3 -16 0z" fill="#1d5a4a"/>
<path d="M709 703 l7 -20 M719 703 l-7 -20" fill="none" stroke="#7d9a94" stroke-width="0.9"/>
<path d="M697 693 l9 5 l-1 3 l-9 -5z" fill="#f3d9a6"/>
<polygon points="554,757 578,743.2 700,813.6 676,827.4" fill="#f4f4f4"/>
<polygon points="554,757 676,827.4 676,880 554,809.6" fill="#dddcdd"/>
<polygon points="676,827.4 880.3,709.4 856.3,695.6 652,813.6" fill="#f1f0f0"/>
<polygon points="676,827.4 880.3,709.4 880.3,762 676,880" fill="#d5d5d6"/>
<polygon points="700,806 866,710 858,705.5 692,801.4" fill="#f8f8f8"/>
<polygon points="568,737 585.5,746.5 585.5,765 568,755.5" fill="#e8893c"/>
<polygon points="568,738.5 584,747.3 584,763.5 568,754.7" fill="#1b1b1d"/>
<line x1="570" y1="742.5" x2="582.5" y2="749.4" stroke="#9a9a9a" stroke-width="0.7"/>
<line x1="570" y1="745.1" x2="582.5" y2="752" stroke="#9a9a9a" stroke-width="0.7"/>
<line x1="570" y1="747.7" x2="582.5" y2="754.6" stroke="#9a9a9a" stroke-width="0.7"/>
<line x1="570" y1="750.3" x2="582.5" y2="757.2" stroke="#9a9a9a" stroke-width="0.7"/>
<line x1="570" y1="752.9" x2="582.5" y2="759.8" stroke="#9a9a9a" stroke-width="0.7"/>
<rect x="601.4" y="747" width="7.2" height="5" fill="#e9b64c"/>
<path d="M601.4 748 v-12 q0 -3 2.4 -4 v-2.5 h2.4 v2.5 q2.4 1 2.4 4 v12z" fill="#5b2a14"/>
<rect x="607.9" y="750.5" width="7.2" height="5" fill="#e9b64c"/>
<path d="M607.9 751.5 v-12 q0 -3 2.4 -4 v-2.5 h2.4 v2.5 q2.4 1 2.4 4 v12z" fill="#8a7a1a"/>
<rect x="613.9" y="754" width="7.2" height="5" fill="#e9b64c"/>
<path d="M613.9 755 v-12 q0 -3 2.4 -4 v-2.5 h2.4 v2.5 q2.4 1 2.4 4 v12z" fill="#9a4a16"/>
<path d="M582.8 765.5 Q586 748 603 745.5 L651.8 772.8 L651.8 786 L630 798.6 L630 831 L582.8 807 Z" fill="#a9b7c1"/>
<polygon points="582.8,766 630,793 630,831 582.8,807" fill="#b9c5cd"/>
<path d="M582.8 765.5 Q586 748 603 745.5 L651.8 772.8 Q636 775 630 793 Z" fill="#a3b1bc"/>
<polygon points="587,765 606.5,753.5 648,776.5 629.5,789" fill="#b3bfc8"/>
<ellipse cx="598.5" cy="764.2" rx="4.2" ry="2.7" fill="#e9751f"/>
<ellipse cx="598.5" cy="764" rx="1.3" ry="0.8" fill="#dfe5e8"/>
<ellipse cx="605" cy="758.7" rx="4.2" ry="2.7" fill="#ef8a2a"/>
<ellipse cx="605" cy="758.5" rx="1.3" ry="0.8" fill="#dfe5e8"/>
<ellipse cx="612.5" cy="771" rx="4.2" ry="2.7" fill="#8fc9a0"/>
<ellipse cx="612.5" cy="770.8" rx="1.3" ry="0.8" fill="#dfe5e8"/>
<ellipse cx="617.5" cy="765.2" rx="4.2" ry="2.7" fill="#9ad0aa"/>
<ellipse cx="617.5" cy="765" rx="1.3" ry="0.8" fill="#dfe5e8"/>
<ellipse cx="625.5" cy="777.5" rx="4.2" ry="2.7" fill="#f2a7a0"/>
<ellipse cx="625.5" cy="777.3" rx="1.3" ry="0.8" fill="#dfe5e8"/>
<ellipse cx="629.8" cy="772" rx="4.2" ry="2.7" fill="#f5b5ae"/>
<ellipse cx="629.8" cy="771.8" rx="1.3" ry="0.8" fill="#dfe5e8"/>
<ellipse cx="637.5" cy="783.5" rx="4.2" ry="2.7" fill="#2a1712"/>
<ellipse cx="637.5" cy="783.3" rx="1.3" ry="0.8" fill="#dfe5e8"/>
<ellipse cx="640" cy="777.3" rx="4.2" ry="2.7" fill="#3a1d15"/>
<ellipse cx="640" cy="777.1" rx="1.3" ry="0.8" fill="#dfe5e8"/>
<line x1="583" y1="779.5" x2="630" y2="806.5" stroke="#7f8c95" stroke-width="1"/>
<line x1="583" y1="793.5" x2="630" y2="819.5" stroke="#7f8c95" stroke-width="1"/>
<path d="M588 778.5 l12 -3.5 l9 6 l-12 3.5z" fill="#d8862e"/>
<path d="M590 778 l10 -3 l7 4.5 l-10 3z" fill="#4a2616"/>
<ellipse cx="616.5" cy="790" rx="5" ry="3.2" fill="#e7a455"/>
<ellipse cx="616.5" cy="789.3" rx="3.4" ry="2" fill="#4a2016"/>
<ellipse cx="625" cy="797" rx="4.6" ry="3" fill="#e7a455"/>
<ellipse cx="625" cy="796.4" rx="3" ry="1.8" fill="#5a2a16"/>
<ellipse cx="591" cy="792.5" rx="3" ry="2.2" fill="#d99a52"/>
<ellipse cx="598" cy="796.5" rx="3" ry="2.2" fill="#7a2a18"/>
<ellipse cx="605" cy="801" rx="3.4" ry="2.4" fill="#6a3a22"/>
<ellipse cx="613.5" cy="806" rx="4.2" ry="3.2" fill="#7a4424"/>
<ellipse cx="622.5" cy="811.5" rx="4.2" ry="3.2" fill="#a8764a"/>
<rect x="622.8" y="743.5" width="10.5" height="24" fill="rgba(255,255,255,0.85)" rx="2"/>
<rect x="623.4" y="750.2" width="9.3" height="16.8" fill="#f6c231" rx="1.5"/>
<circle cx="624.8" cy="764.5" r="1" fill="#e2452a"/>
<circle cx="628" cy="763.5" r="1" fill="#e2452a"/>
<circle cx="631.2" cy="764.5" r="1" fill="#e2452a"/>
<circle cx="624.8" cy="758.2" r="1" fill="#e2452a"/>
<circle cx="628" cy="759.2" r="1" fill="#e2452a"/>
<circle cx="631.2" cy="758.2" r="1" fill="#e2452a"/>
<circle cx="624.8" cy="753.9" r="1" fill="#e2452a"/>
<circle cx="628" cy="752.9" r="1" fill="#e2452a"/>
<ellipse cx="628" cy="743.5" rx="5.2" ry="2.9" fill="#9d9d9d"/>
<ellipse cx="628" cy="743.1" rx="4" ry="2.1" fill="#7f7f7f"/>
<rect x="634.2" y="748" width="13.5" height="26" fill="rgba(255,255,255,0.85)" rx="2"/>
<rect x="634.9" y="755.3" width="12.3" height="18.2" fill="#2ba7a1" rx="1.5"/>
<circle cx="636.2" cy="771" r="1" fill="#dff3f1"/>
<circle cx="641" cy="770" r="1" fill="#dff3f1"/>
<circle cx="645.8" cy="771" r="1" fill="#dff3f1"/>
<circle cx="636.2" cy="764.3" r="1" fill="#dff3f1"/>
<circle cx="641" cy="765.3" r="1" fill="#dff3f1"/>
<circle cx="645.8" cy="764.3" r="1" fill="#dff3f1"/>
<circle cx="636.2" cy="759.6" r="1" fill="#dff3f1"/>
<circle cx="641" cy="758.6" r="1" fill="#dff3f1"/>
<ellipse cx="641" cy="748" rx="6.8" ry="3.8" fill="#9d9d9d"/>
<ellipse cx="641" cy="747.6" rx="5.5" ry="2.7" fill="#7f7f7f"/>
<path d="M665.5 795 q-2 -30 3 -41 q9 -4 16 0 q5 10 3.5 38 z" fill="#fbfbfb" stroke="#dedede" stroke-width="0.6"/>
<path d="M671.5 755.5 l2.500 0 l3.5 9 l3.5 -9 l2.5 0 l1.5 35 l-13 6 z" fill="#1d5a4a"/>
<ellipse cx="678" cy="746" rx="4.6" ry="6" fill="#f6d8bc"/>
<path d="M673 745.5 q-1 -8 5.2 -8.300 q6 0.3 5.2 8.300 q-1.500 -4 -5.2 -4 q-3.700 0 -5.2 4z" fill="#6a2e1a"/>
<circle cx="676.3" cy="746.5" r="0.6" fill="#3a3a44"/>
<circle cx="680" cy="746.5" r="0.6" fill="#3a3a44"/>
<polygon points="659,788 671,781 671,787 659,794" fill="#111114"/>
<rect x="664.3" y="790" width="2" height="15" fill="#1a1a1d"/>
<ellipse cx="665.3" cy="806" rx="5" ry="2.8" fill="#1a1a1d"/>
<ellipse cx="856.5" cy="786" rx="7" ry="3.4" fill="#1c1c1e"/>
<ellipse cx="856.5" cy="784.3" rx="6.6" ry="3.2" fill="#f1eee2"/>
<path d="M853 752 l7 0 l-1.3 32 l-4.4 0z" fill="#f1eee2"/>
<ellipse cx="851.5" cy="750.5" rx="14" ry="8" fill="#e9e9e9"/>
<ellipse cx="851.5" cy="748.3" rx="14" ry="8" fill="#ffffff"/>
<rect x="879" y="810.4" width="2" height="24" fill="#c6c6cb"/>
<rect x="857" y="823" width="2" height="24" fill="#c6c6cb"/>
<rect x="901" y="823" width="2" height="24" fill="#c6c6cb"/>
<rect x="879" y="835.6" width="2" height="24" fill="#c6c6cb"/>
<polygon points="855,825 880,810.6 880,782.6 855,796" fill="#f0ecdf" stroke="#f0ecdf" stroke-width="3" stroke-linejoin="round"/>
<polygon points="855,825 880,839.4 880,833.4 855,819" fill="#ebe7da"/>
<polygon points="880,839.4 905,825 905,819 880,833.4" fill="#e4e0d2"/>
<polygon points="855,819 880,833.4 905,819 880,804.6" fill="#f8f6ef"/>
<rect x="941" y="813.4" width="2" height="24" fill="#c6c6cb"/>
<rect x="919" y="826" width="2" height="24" fill="#c6c6cb"/>
<rect x="963" y="826" width="2" height="24" fill="#c6c6cb"/>
<rect x="941" y="838.6" width="2" height="24" fill="#c6c6cb"/>
<polygon points="942,813.6 967,828 967,800 942,784.6" fill="#f3efe3" stroke="#f3efe3" stroke-width="3" stroke-linejoin="round"/>
<polygon points="917,828 942,842.4 942,836.4 917,822" fill="#ebe7da"/>
<polygon points="942,842.4 967,828 967,822 942,836.4" fill="#e4e0d2"/>
<polygon points="917,822 942,836.4 967,822 942,807.6" fill="#f8f6ef"/>
<path d="M935.3 811 l13.7 -0.5 q1.5 8 -3 16 l-10.7 0z" fill="#4a2a22"/>
<path d="M934.3 812 q-1.5 -17 1.5 -26 q4 -2.5 8 -1.5 q9 3 10.2 12 l-1.5 4 l-3 -1 l-0.5 12 z" fill="#d9463a"/>
<path d="M949.5 812 l-14 7.5 l0.5 2.8 l14.5 -6.3z" fill="#e9e4dc"/>
<ellipse cx="939.3" cy="777.5" rx="4.3" ry="6.2" fill="#c9c5c0"/>
<path d="M934.6 777 q-0.8 -8.5 5 -8.8 q5.5 0 5.2 7 l1.2 9 l-1.6 0.5 l-1.4 -8 q-1.6 -5 -4.4 -5 q-3 0 -4 5.3z" fill="#f0923a"/>
<polygon points="891.8,887.4 908.8,897.4 925.8,887.4 908.8,877.4" fill="#d9d6c7" stroke="#d9d6c7" stroke-width="12" stroke-linejoin="round"/>
<polygon points="891.8,883.9 908.8,893.9 925.8,883.9 908.8,873.9" fill="#edeadd" stroke="#edeadd" stroke-width="12" stroke-linejoin="round"/>
<polygon points="846.2,841 913.8,880 913.8,883 846.2,844" fill="#e3e1d6"/>
<polygon points="913.8,880 971.2,846.8 971.2,849.8 913.8,883" fill="#d5d3c6"/>
<polygon points="913.8,880 971.2,846.8 903.8,807.8 846.2,841" fill="#fdfcf9"/>
<polygon points="918.8,798.8 935,807.5 935,826.2 918.8,816.2" fill="#1e5e55"/>
<polygon points="935,807.5 936.5,806.7 936.5,825.4 935,826.2" fill="#143f39"/>
<polygon points="873.8,853 883,848.5 888.8,851.8 879.5,856.5" fill="#3fb4c8"/>
<polygon points="875.5,853 883,849.5 887,851.8 879.5,855.4" fill="#a6dde6"/>
<path d="M890 856 l6 0 l-0.9 6 l-4.2 0 z" fill="#f26a1c"/>
<rect x="889.6" y="853.6" width="6.8" height="2.6" fill="#ffffff"/>
<ellipse cx="893" cy="853.4" rx="3.6" ry="2.2" fill="#125548"/>
<rect x="945" y="865.4" width="2" height="24" fill="#c6c6cb"/>
<rect x="923" y="878" width="2" height="24" fill="#c6c6cb"/>
<rect x="967" y="878" width="2" height="24" fill="#c6c6cb"/>
<rect x="945" y="890.6" width="2" height="24" fill="#c6c6cb"/>
<polygon points="921,880 946,894.4 946,888.4 921,874" fill="#ebe7da"/>
<polygon points="946,894.4 971,880 971,874 946,888.4" fill="#e4e0d2"/>
<polygon points="921,874 946,888.4 971,874 946,859.6" fill="#f8f6ef"/>
<polygon points="946,894.4 971,880 971,852 946,865.4" fill="#eeeadc" stroke="#eeeadc" stroke-width="3" stroke-linejoin="round"/>
<rect x="862" y="865.4" width="2" height="24" fill="#c6c6cb"/>
<rect x="840" y="878" width="2" height="24" fill="#c6c6cb"/>
<rect x="884" y="878" width="2" height="24" fill="#c6c6cb"/>
<rect x="862" y="890.6" width="2" height="24" fill="#c6c6cb"/>
<polygon points="838,880 863,894.4 863,888.4 838,874" fill="#ebe7da"/>
<polygon points="863,894.4 888,880 888,874 863,888.4" fill="#e4e0d2"/>
<polygon points="838,874 863,888.4 888,874 863,859.6" fill="#f8f6ef"/>
<polygon points="838,880 863,894.4 863,866.4 838,851" fill="#f3efe3" stroke="#f3efe3" stroke-width="3" stroke-linejoin="round"/>
<path d="M857.5 871 q0 -10 1.5 -15 l10 0 q2 6 1.5 15z" fill="#ee5a48"/>
<path d="M856 858 q-1.5 -24 6.5 -24.3 q7.5 0 7.3 24.3 q-1 4 -3 5.5 q-4 1 -8 0 q-2 -2 -2.800 -5.5z" fill="#9a6038"/>
<rect x="982" y="881.4" width="2" height="24" fill="#c6c6cb"/>
<rect x="960" y="894" width="2" height="24" fill="#c6c6cb"/>
<rect x="1004" y="894" width="2" height="24" fill="#c6c6cb"/>
<rect x="982" y="906.6" width="2" height="24" fill="#c6c6cb"/>
<polygon points="958,896 983,881.6 983,853.6 958,867" fill="#f0ecdf" stroke="#f0ecdf" stroke-width="3" stroke-linejoin="round"/>
<polygon points="958,896 983,910.4 983,904.4 958,890" fill="#ebe7da"/>
<polygon points="983,910.4 1008,896 1008,890 983,904.4" fill="#e4e0d2"/>
<polygon points="958,890 983,904.4 1008,890 983,875.6" fill="#f8f6ef"/>
<rect x="1054" y="877.8" width="2" height="24" fill="#c6c6cb"/>
<rect x="1032" y="890.4" width="2" height="24" fill="#c6c6cb"/>
<rect x="1076" y="890.4" width="2" height="24" fill="#c6c6cb"/>
<rect x="1054" y="903" width="2" height="24" fill="#c6c6cb"/>
<polygon points="1055,878 1080,892.4 1080,864.4 1055,849" fill="#f3efe3" stroke="#f3efe3" stroke-width="3" stroke-linejoin="round"/>
<polygon points="1030,892.4 1055,906.8 1055,900.8 1030,886.4" fill="#ebe7da"/>
<polygon points="1055,906.8 1080,892.4 1080,886.4 1055,900.8" fill="#e4e0d2"/>
<polygon points="1030,886.4 1055,900.8 1080,886.4 1055,872" fill="#f8f6ef"/>
<path d="M972 893 q-4 -26 2 -42 l16 0 q7 4 8 22 l11 8 l-2 3 l-13 -6 l-2 16 z" fill="#1b2b3c"/>
<path d="M982.5 851 l2 10 l2 -10z" fill="#d8283a"/>
<path d="M980.5 850 l4 3.5 l4 -3.5 l-1 -1.5 l-6 0z" fill="#ffffff"/>
<ellipse cx="984.4" cy="842.3" rx="4.4" ry="5.5" fill="#f0b283"/>
<path d="M979 842 q-1 -7.5 5 -7.5 q6 0 5.2 7.5 q-2.5 -4 -10.2 0 z" fill="#5a2a14"/>
<polygon points="1005.2,951.2 1022.2,961.2 1039.2,951.2 1022.2,941.2" fill="#d9d6c7" stroke="#d9d6c7" stroke-width="12" stroke-linejoin="round"/>
<polygon points="1005.2,947.7 1022.2,957.7 1039.2,947.7 1022.2,937.7" fill="#edeadd" stroke="#edeadd" stroke-width="12" stroke-linejoin="round"/>
<polygon points="959.8,906.8 1023.8,943.8 1023.8,946.8 959.8,909.8" fill="#e3e1d6"/>
<polygon points="1023.8,943.8 1084.8,908.5 1084.8,911.5 1023.8,946.8" fill="#d5d3c6"/>
<polygon points="1023.8,943.8 1084.8,908.5 1020.8,871.6 959.8,906.8" fill="#fdfcf9"/>
<ellipse cx="1010" cy="883.5" rx="4.2" ry="2.6" fill="#ffffff" stroke="#cfcfd6" stroke-width="0.6"/>
<ellipse cx="1010" cy="882.8" rx="2.8" ry="1.6" fill="#2a1a16"/>
<ellipse cx="1001.3" cy="897.5" rx="10" ry="6" fill="#f3f3f5" stroke="#c9c9d2" stroke-width="0.8"/>
<ellipse cx="1001.3" cy="897.5" rx="7.2" ry="4.2" fill="#ffffff" stroke="#dcdce2" stroke-width="0.5"/>
<path d="M995 897 l5 -4 l6 1 l2 4 l-6 3.5 l-6 -1.5z" fill="#d23a2e"/>
<circle cx="1001.5" cy="895.5" r="2.2" fill="#f6c21c"/>
<path d="M999 898 l5 0 l-1 2.5 l-3 0z" fill="#ffffff"/>
<path d="M1020.8 920 l6 0 l-0.9 6 l-4.2 0 z" fill="#f26a1c"/>
<rect x="1020.4" y="917.6" width="6.8" height="2.6" fill="#ffffff"/>
<ellipse cx="1023.8" cy="917.4" rx="3.6" ry="2.2" fill="#125548"/>
<ellipse cx="1042.5" cy="916.5" rx="6.5" ry="3.9" fill="#f3f3f5" stroke="#c9c9d2" stroke-width="0.8"/>
<ellipse cx="1042.5" cy="916.5" rx="4.7" ry="2.7" fill="#ffffff" stroke="#dcdce2" stroke-width="0.5"/>
<path d="M1039 915.5 l6 -1.5 l2 2.5 l-6 1.5z" fill="#e9b23a"/>
<rect x="973.2" y="928.4" width="2" height="24" fill="#c6c6cb"/>
<rect x="951.2" y="941" width="2" height="24" fill="#c6c6cb"/>
<rect x="995.2" y="941" width="2" height="24" fill="#c6c6cb"/>
<rect x="973.2" y="953.6" width="2" height="24" fill="#c6c6cb"/>
<polygon points="949.2,943 974.2,957.4 974.2,951.4 949.2,937" fill="#ebe7da"/>
<polygon points="974.2,957.4 999.2,943 999.2,937 974.2,951.4" fill="#e4e0d2"/>
<polygon points="949.2,937 974.2,951.4 999.2,937 974.2,922.6" fill="#f8f6ef"/>
<polygon points="949.2,943 974.2,957.4 974.2,929.4 949.2,914" fill="#f3efe3" stroke="#f3efe3" stroke-width="3" stroke-linejoin="round"/>
<rect x="1062" y="923.4" width="2" height="24" fill="#c6c6cb"/>
<rect x="1040" y="936" width="2" height="24" fill="#c6c6cb"/>
<rect x="1084" y="936" width="2" height="24" fill="#c6c6cb"/>
<rect x="1062" y="948.6" width="2" height="24" fill="#c6c6cb"/>
<polygon points="1038,938 1063,952.4 1063,946.4 1038,932" fill="#ebe7da"/>
<polygon points="1063,952.4 1088,938 1088,932 1063,946.4" fill="#e4e0d2"/>
<polygon points="1038,932 1063,946.4 1088,932 1063,917.6" fill="#f8f6ef"/>
<polygon points="1063,952.4 1088,938 1088,910 1063,923.4" fill="#eeeadc" stroke="#eeeadc" stroke-width="3" stroke-linejoin="round"/>
<path d="M1043 939 q8 -6 20 -3 l0 9 l-12 3 l-2 10 l-4.5 0 l0 -14z" fill="#3a3026"/>
<ellipse cx="1049" cy="960" rx="3.6" ry="1.6" fill="#8a1f2a"/>
<path d="M1052 939 q-2 -18 2 -28 l9 0 q7 6 6 30 q-8 4 -17 -2z" fill="#79b843"/>
<path d="M1054 918 l-8 6 l1.5 2.5 l9 -4z" fill="#f3c9a0"/>
<ellipse cx="1056.9" cy="903.3" rx="4.4" ry="5.5" fill="#f3c9a0"/>
<path d="M1062.7 905.5 q1.5 -9.5 -6.5 -9.5 q-5 0.5 -4 3.6 q5 -1 10.5 5.9 z" fill="#8a5a2c"/>
<rect x="714" y="912.4" width="2" height="24" fill="#c6c6cb"/>
<rect x="692" y="925" width="2" height="24" fill="#c6c6cb"/>
<rect x="736" y="925" width="2" height="24" fill="#c6c6cb"/>
<rect x="714" y="937.6" width="2" height="24" fill="#c6c6cb"/>
<polygon points="690,927 715,912.6 715,884.6 690,898" fill="#f0ecdf" stroke="#f0ecdf" stroke-width="3" stroke-linejoin="round"/>
<polygon points="690,927 715,941.4 715,935.4 690,921" fill="#ebe7da"/>
<polygon points="715,941.4 740,927 740,921 715,935.4" fill="#e4e0d2"/>
<polygon points="690,921 715,935.4 740,921 715,906.6" fill="#f8f6ef"/>
<rect x="775" y="921.4" width="2" height="24" fill="#c6c6cb"/>
<rect x="753" y="934" width="2" height="24" fill="#c6c6cb"/>
<rect x="797" y="934" width="2" height="24" fill="#c6c6cb"/>
<rect x="775" y="946.6" width="2" height="24" fill="#c6c6cb"/>
<polygon points="776,921.6 801,936 801,908 776,892.6" fill="#f3efe3" stroke="#f3efe3" stroke-width="3" stroke-linejoin="round"/>
<polygon points="751,936 776,950.4 776,944.4 751,930" fill="#ebe7da"/>
<polygon points="776,950.4 801,936 801,930 776,944.4" fill="#e4e0d2"/>
<polygon points="751,930 776,944.4 801,930 776,915.6" fill="#f8f6ef"/>
<polygon points="729.1,987.1 746.1,997.1 763.1,987.1 746.1,977.1" fill="#d9d6c7" stroke="#d9d6c7" stroke-width="12" stroke-linejoin="round"/>
<polygon points="729.1,983.6 746.1,993.6 763.1,983.6 746.1,973.6" fill="#edeadd" stroke="#edeadd" stroke-width="12" stroke-linejoin="round"/>
<polygon points="683.6,943.3 746.6,979.7 746.6,982.7 683.6,946.3" fill="#e3e1d6"/>
<polygon points="746.6,979.7 808.6,943.9 808.6,946.9 746.6,982.7" fill="#d5d3c6"/>
<polygon points="746.6,979.7 808.6,943.9 745.6,907.5 683.6,943.3" fill="#fdfcf9"/>
<path d="M747.9 952 l4.8 0 l-0.7 4.8 l-3.4 0 z" fill="#f26a1c"/>
<rect x="747.6" y="950.1" width="5.4" height="2.1" fill="#ffffff"/>
<ellipse cx="750.3" cy="949.9" rx="2.9" ry="1.8" fill="#125548"/>
<ellipse cx="767" cy="948.5" rx="9.5" ry="5.7" fill="#f3f3f5" stroke="#c9c9d2" stroke-width="0.8"/>
<ellipse cx="767" cy="948.5" rx="6.8" ry="4" fill="#ffffff" stroke="#dcdce2" stroke-width="0.5"/>
<path d="M761 948 l4 -3.5 l4 1.5 l-2 3.5 l-4 0.5z" fill="#c8650f"/>
<path d="M768.5 946 l4 -1 l1 4 l-4 1.5z" fill="#c8650f"/>
<rect x="696.7" y="962.4" width="2" height="24" fill="#c6c6cb"/>
<rect x="674.7" y="975" width="2" height="24" fill="#c6c6cb"/>
<rect x="718.7" y="975" width="2" height="24" fill="#c6c6cb"/>
<rect x="696.7" y="987.6" width="2" height="24" fill="#c6c6cb"/>
<polygon points="672.7,977 697.7,991.4 697.7,985.4 672.7,971" fill="#ebe7da"/>
<polygon points="697.7,991.4 722.7,977 722.7,971 697.7,985.4" fill="#e4e0d2"/>
<polygon points="672.7,971 697.7,985.4 722.7,971 697.7,956.6" fill="#f8f6ef"/>
<polygon points="672.7,977 697.7,991.4 697.7,963.4 672.7,948" fill="#f3efe3" stroke="#f3efe3" stroke-width="3" stroke-linejoin="round"/>
<rect x="786" y="976.4" width="2" height="24" fill="#c6c6cb"/>
<rect x="764" y="989" width="2" height="24" fill="#c6c6cb"/>
<rect x="808" y="989" width="2" height="24" fill="#c6c6cb"/>
<rect x="786" y="1001.6" width="2" height="24" fill="#c6c6cb"/>
<polygon points="762,991 787,1005.4 787,999.4 762,985" fill="#ebe7da"/>
<polygon points="787,1005.4 812,991 812,985 787,999.4" fill="#e4e0d2"/>
<polygon points="762,985 787,999.4 812,985 787,970.6" fill="#f8f6ef"/>
<polygon points="787,1005.4 812,991 812,963 787,976.4" fill="#eeeadc" stroke="#eeeadc" stroke-width="3" stroke-linejoin="round"/>
<rect x="822" y="981.4" width="2" height="24" fill="#c6c6cb"/>
<rect x="800" y="994" width="2" height="24" fill="#c6c6cb"/>
<rect x="844" y="994" width="2" height="24" fill="#c6c6cb"/>
<rect x="822" y="1006.6" width="2" height="24" fill="#c6c6cb"/>
<polygon points="798,996 823,981.6 823,953.6 798,967" fill="#f0ecdf" stroke="#f0ecdf" stroke-width="3" stroke-linejoin="round"/>
<polygon points="798,996 823,1010.4 823,1004.4 798,990" fill="#ebe7da"/>
<polygon points="823,1010.4 848,996 848,990 823,1004.4" fill="#e4e0d2"/>
<polygon points="798,990 823,1004.4 848,990 823,975.6" fill="#f8f6ef"/>
<rect x="894.5" y="975.4" width="2" height="24" fill="#c6c6cb"/>
<rect x="872.5" y="988" width="2" height="24" fill="#c6c6cb"/>
<rect x="916.5" y="988" width="2" height="24" fill="#c6c6cb"/>
<rect x="894.5" y="1000.6" width="2" height="24" fill="#c6c6cb"/>
<polygon points="895.5,975.6 920.5,990 920.5,962 895.5,946.6" fill="#f3efe3" stroke="#f3efe3" stroke-width="3" stroke-linejoin="round"/>
<polygon points="870.5,990 895.5,1004.4 895.5,998.4 870.5,984" fill="#ebe7da"/>
<polygon points="895.5,1004.4 920.5,990 920.5,984 895.5,998.4" fill="#e4e0d2"/>
<polygon points="870.5,984 895.5,998.4 920.5,984 895.5,969.6" fill="#f8f6ef"/>
<polygon points="845.5,1052.4 862.5,1062.4 879.5,1052.4 862.5,1042.4" fill="#d9d6c7" stroke="#d9d6c7" stroke-width="12" stroke-linejoin="round"/>
<polygon points="845.5,1048.9 862.5,1058.9 879.5,1048.9 862.5,1038.9" fill="#edeadd" stroke="#edeadd" stroke-width="12" stroke-linejoin="round"/>
<polygon points="800,1007.5 865,1045 865,1048 800,1010.5" fill="#e3e1d6"/>
<polygon points="865,1045 925,1010.4 925,1013.4 865,1048" fill="#d5d3c6"/>
<polygon points="865,1045 925,1010.4 860,972.8 800,1007.5" fill="#fdfcf9"/>
<rect x="814" y="1031.4" width="2" height="24" fill="#c6c6cb"/>
<rect x="792" y="1044" width="2" height="24" fill="#c6c6cb"/>
<rect x="836" y="1044" width="2" height="24" fill="#c6c6cb"/>
<rect x="814" y="1056.6" width="2" height="24" fill="#c6c6cb"/>
<polygon points="790,1046 815,1060.4 815,1054.4 790,1040" fill="#ebe7da"/>
<polygon points="815,1060.4 840,1046 840,1040 815,1054.4" fill="#e4e0d2"/>
<polygon points="790,1040 815,1054.4 840,1040 815,1025.6" fill="#f8f6ef"/>
<polygon points="790,1046 815,1060.4 815,1032.4 790,1017" fill="#f3efe3" stroke="#f3efe3" stroke-width="3" stroke-linejoin="round"/>
<rect x="905.5" y="1032.4" width="2" height="24" fill="#c6c6cb"/>
<rect x="883.5" y="1045" width="2" height="24" fill="#c6c6cb"/>
<rect x="927.5" y="1045" width="2" height="24" fill="#c6c6cb"/>
<rect x="905.5" y="1057.6" width="2" height="24" fill="#c6c6cb"/>
<polygon points="881.5,1047 906.5,1061.4 906.5,1055.4 881.5,1041" fill="#ebe7da"/>
<polygon points="906.5,1061.4 931.5,1047 931.5,1041 906.5,1055.4" fill="#e4e0d2"/>
<polygon points="881.5,1041 906.5,1055.4 931.5,1041 906.5,1026.6" fill="#f8f6ef"/>
<polygon points="906.5,1061.4 931.5,1047 931.5,1019 906.5,1032.4" fill="#eeeadc" stroke="#eeeadc" stroke-width="3" stroke-linejoin="round"/>
<path d="M815.5 1031 l12 -1 q6 3 6 8 l3.5 22 l-4.5 0.6 l-4 -14 l-13 -3z" fill="#16161a"/>
<ellipse cx="824.5" cy="1057.5" rx="3.4" ry="1.6" fill="#16161a"/>
<path d="M807 1036 q-1.5 -20 2 -30 q6 -3 13.5 1 l0.5 28 q-8 5 -16 1z" fill="#6f7f82"/>
<path d="M820 1009 l13 4.5 l8 -2.5 l1 2.6 l-9 5 l-13.5 -3z" fill="#ffffff"/>
<path d="M833 1017.5 l8.5 -5 l1.5 2.5 l-8 5z" fill="#f0dcae"/>
<path d="M809 1003 q-1.5 -16 7 -16.3 q7 0.3 6.6 9.3 q-0.4 6 -4.6 8 q-5 1.5 -9 -1z" fill="#e0691c"/>
<path d="M909 1040 l-14 3 l-12 10 l-3 9 l4.5 1 l3.5 -6 l9 -4.5 l-5 8 l4.5 2 l8 -9 l6 -4z" fill="#16161a"/>
<ellipse cx="881.5" cy="1064.8" rx="3.4" ry="1.6" fill="#16161a"/>
<ellipse cx="892.5" cy="1062" rx="3.4" ry="1.6" fill="#16161a"/>
<path d="M911 1047 q1.5 -24 -3 -36 q-5 -3.5 -11 -1.5 q-4 3 -5 9.5 l-9 3.5 l1 3 l11 -2 l1 10 l-3 11 q9 5 18 2.5z" fill="#1a1a1c"/>
<path d="M883 1022 l-6.5 -3 l-1.5 1.8 l6 4.5z" fill="#f0b890"/>
<ellipse cx="897" cy="1003.5" rx="4.6" ry="6" fill="#f0b890"/>
<path d="M893.5 997.5 q2 -2.5 6.5 -2 q5.5 1 5 8 q-0.5 4 -3 5.5 q-1.500 -3 -1 -7 q-3.500 -1 -7.500 -4.500z" fill="#5a3a2a"/>
<defs><pattern id="grid" width="4.9" height="4.9" patternUnits="userSpaceOnUse"><rect width="4.9" height="4.9" fill="#fcfbf8"/><path d="M0 0.4H4.9M0.4 0V4.9" stroke="#ebe8e2" stroke-width="0.7" fill="none"/></pattern><pattern id="grid2" width="4.9" height="4.9" patternUnits="userSpaceOnUse"><rect width="4.9" height="4.9" fill="#eeeeed"/><path d="M0 0.4H4.9M0.4 0V4.9" stroke="#e2e2e2" stroke-width="0.7" fill="none"/></pattern></defs>
<path d="M831.5 363.3 L761.6 290.3 Q754.8 283.2 745 249.3 A90 90 0 1 1 918 249.3 Q908.2 283.2 901.4 290.3 Z" fill="#7789a9"/>
<clipPath id="pc0"><circle cx="831.5" cy="224.3" r="80.5"/></clipPath>
<g clip-path="url(#pc0)">
<rect x="740" y="130" width="190" height="190" fill="#ebebea"/>
<polygon points="792,130 930,130 930,320 792,320" fill="#d6d5d7"/>
<polygon points="745,262 800,230 800,320 745,320" fill="#d9d9da"/>
<polygon points="745,262 800,230 800,234 745,266" fill="#f1f1f1"/>
<rect x="874" y="176" width="31" height="40" fill="#cfcfd2"/>
<rect x="892.5" y="178" width="9.5" height="42" fill="#b9b9bb"/>
<rect x="895.5" y="178" width="3" height="42" fill="#d5d5d7"/>
<path d="M897 180 q0 -6 -6 -6 q-8 0 -8 8 l0 3 l4 0 l0 -2.5 q0 -4 4 -4 q1.5 0 1.5 2z" fill="#a9a9ab"/>
<rect x="894" y="206" width="6" height="12" fill="#8f8f92"/>
<polygon points="793,246.5 867,201 935,240 935,330 869,292.5" fill="#f5f5f5"/>
<polygon points="850,215.5 866.5,206 912,232 908.5,243.5" fill="#3b3b3e"/>
<polygon points="851,216 908.5,243.5 935,262 935,300 872,262 846,240" fill="#fdfdfd"/>
<polygon points="793,246.5 869,292.5 869,300.5 793,254.5" fill="#dfe5e6"/>
<polygon points="793,254.5 869,300.5 869,330 793,330" fill="#cbcbcc"/>
<polygon points="777,240 799,236 799,300 777,300" fill="#f6f6f6"/>
<rect x="777" y="240" width="6" height="62" fill="#fdfdfd"/>
<rect x="881.3" y="182" width="3.6" height="45" fill="rgba(255,255,255,0.92)"/>
<ellipse cx="874" cy="235" rx="24.5" ry="19" fill="rgba(250,250,250,0.75)" stroke="#8b8b8d" stroke-width="1.6" transform="rotate(32 874 235)"/>
<ellipse cx="873" cy="236" rx="19" ry="14" fill="rgba(255,255,255,0.5)" transform="rotate(32 873 236)"/>
<path d="M811 305 l0.5 -24 q-5 -34 4 -62 q14 -8 30 -1 q14 10 13 38 l-9 8 q2 22 -2 41 z" fill="#f7f7f7" stroke="#e3e3e3" stroke-width="0.6"/>
<path d="M823 217 l12 62 M843 217 l-24 62" fill="none" stroke="#ffffff" stroke-width="1.4" opacity="0.9"/>
<path d="M812.5 279.5 q16 9 34 3.5 l0.5 25 l-35 0z" fill="#1b1b1d"/>
<path d="M812.5 279.5 q16 9 34 3.5" fill="none" stroke="#3a3a3c" stroke-width="1.6"/>
<path d="M822 288 q-4 6 -2 9 M823 288 q3 6 6 7 M822.5 287 q5 -1.5 6 2" fill="none" stroke="#e9e9e9" stroke-width="1.1"/>
<path d="M849 262 q4 -8 12 -8 l13 -3.5 q5 -1 5 3 q0 3.5 -4 5 l-14 6.5 q-8 2 -12 -3z" fill="#f5aa68"/>
<path d="M846 246 l16 6 l-4 12 l-14 -4z" fill="#ffffff"/>
<path d="M820.5 211 q11 -6.5 24 -3 l1.5 7 q-10 4.5 -21 2.5z" fill="#da3a2e"/>
<path d="M838 183 q8 -3 14 0.5 l0 7 l2 4 l-2.2 1.5 l-0.3 6 q-1.5 3.5 -6 3 l-5.5 -1 l-4 -10z" fill="#f4b57c"/>
<path d="M822 189 q-2 -17 14 -19 q12 -1.5 17.5 4.5 q-7 0.5 -9.5 5.5 l-1 7 q-3 -1 -4 2 l1.5 5.5 q-5 5 -9 4.5 q-8 -3 -9.5 -10z" fill="#8a4513"/>
<ellipse cx="840.5" cy="192.5" rx="2" ry="3" fill="#eaa46a"/>
<path d="M848.5 186.8 l3.6 -0.6" fill="none" stroke="#5a3a2a" stroke-width="1"/>
<circle cx="850" cy="189.3" r="0.9" fill="#4a4a5a"/>
</g>
<path d="M457.5 546.8 L387.6 473.8 Q380.8 466.7 371 432.8 A90 90 0 1 1 544 432.8 Q534.2 466.7 527.4 473.8 Z" fill="#7789a9"/>
<clipPath id="pc1"><circle cx="457.5" cy="407.8" r="80.5"/></clipPath>
<g clip-path="url(#pc1)">
<rect x="366" y="315" width="190" height="190" fill="url(#grid2)"/>
<polygon points="366,395 480,327 560,327 560,505 366,505" fill="#dadadb"/>
<polygon points="366,395 480,327 486,327 366,399" fill="#e6e6e6"/>
<polygon points="417.8,478 489.5,436 560,396 560,505 417.8,505" fill="#cfcfd0"/>
<polygon points="509,424 560,395 560,505 509,505" fill="#c3c3c4"/>
<polygon points="440,486 508,447.5 508,468 462,495 440,495" fill="#f8f8f8"/>
<ellipse cx="460.5" cy="484.3" rx="3.6" ry="6" fill="#d9d9da" transform="rotate(28 460.5 484.3)"/>
<ellipse cx="461.5" cy="484.8" rx="2.6" ry="5" fill="#efefef" transform="rotate(28 461.5 484.8)"/>
<ellipse cx="477.3" cy="473.6" rx="3.6" ry="6" fill="#d9d9da" transform="rotate(28 477.3 473.6)"/>
<ellipse cx="478.3" cy="474.1" rx="2.6" ry="5" fill="#efefef" transform="rotate(28 478.3 474.1)"/>
<ellipse cx="494" cy="463" rx="3.6" ry="6" fill="#d9d9da" transform="rotate(28 494 463)"/>
<ellipse cx="495" cy="463.5" rx="2.6" ry="5" fill="#efefef" transform="rotate(28 495 463.5)"/>
<polygon points="436.9,385.9 504,430 504,434.5 436.9,390.4" fill="#c97a2e"/>
<polygon points="504,430 573,384 573,388.5 504,434.5" fill="#b86a24"/>
<polygon points="436.9,385.9 506.2,344.7 573,384 504,430" fill="#ec9846"/>
<polygon points="439.3,387.5 508.6,346.1 512.9,348.6 443.6,390.3" fill="#d98536"/>
<polygon points="446.6,392.3 515.8,350.4 518.2,351.8 449,393.8" fill="#f3aa5c"/>
<polygon points="452.7,396.3 522,354 526.2,356.5 457,399.1" fill="#d98536"/>
<polygon points="460,401.1 529.2,358.2 531.6,359.6 462.4,402.7" fill="#f3aa5c"/>
<polygon points="466.2,405.1 535.3,361.8 539.6,364.4 470.4,407.9" fill="#d98536"/>
<polygon points="473.4,409.9 542.5,366.1 544.9,367.5 475.8,411.5" fill="#f3aa5c"/>
<polygon points="479.6,413.9 548.7,369.7 553,372.2 483.9,416.8" fill="#d98536"/>
<polygon points="486.8,418.7 555.9,373.9 558.3,375.4 489.2,420.3" fill="#f3aa5c"/>
<polygon points="493,422.8 562,377.6 566.3,380.1 497.3,425.6" fill="#d98536"/>
<polygon points="500.2,427.5 569.3,381.8 571.7,383.2 502.7,429.1" fill="#f3aa5c"/>
<polygon points="356,433 417.8,478 417.8,482.5 356,437.5" fill="#c97a2e"/>
<polygon points="417.8,478 489.5,433 489.5,437.5 417.8,482.5" fill="#b86a24"/>
<polygon points="356,433 422.4,393.5 489.5,433 417.8,478" fill="#ec9846"/>
<polygon points="358.2,434.6 424.8,394.9 429.1,397.4 362.2,437.5" fill="#d98536"/>
<polygon points="364.9,439.5 432.1,399.2 434.5,400.6 367.1,441.1" fill="#f3aa5c"/>
<polygon points="370.6,443.6 438.2,402.8 442.5,405.4 374.5,446.5" fill="#d98536"/>
<polygon points="377.3,448.5 445.5,407.1 447.9,408.5 379.5,450.1" fill="#f3aa5c"/>
<polygon points="382.9,452.6 451.7,410.7 455.9,413.2 386.9,455.5" fill="#d98536"/>
<polygon points="389.6,457.5 458.9,415 461.3,416.4 391.8,459.1" fill="#f3aa5c"/>
<polygon points="395.3,461.6 465.1,418.6 469.4,421.1 399.3,464.5" fill="#d98536"/>
<polygon points="402,466.5 472.3,422.9 474.7,424.3 404.2,468.1" fill="#f3aa5c"/>
<polygon points="407.7,470.6 478.5,426.5 482.8,429.1 411.6,473.5" fill="#d98536"/>
<polygon points="414.3,475.5 485.7,430.8 488.2,432.2 416.6,477.1" fill="#f3aa5c"/>
<ellipse cx="493.3" cy="374.5" rx="16.3" ry="9.3" fill="#9c4f6e" transform="rotate(-14 493.3 374.5)"/>
<ellipse cx="493.3" cy="373.6" rx="14.5" ry="7.6" fill="#d79bb0" transform="rotate(-14 493.3 373.6)"/>
<ellipse cx="496" cy="371.5" rx="8" ry="3.2" fill="#e9bccb" transform="rotate(-14 496 371.5)"/>
<circle cx="486.5" cy="377.3" r="2.1" fill="#ffffff"/>
<circle cx="486.5" cy="377.3" r="0.9" fill="#9c4f6e"/>
<ellipse cx="521.5" cy="389.5" rx="17" ry="10" fill="#9c4f6e" transform="rotate(27 521.5 389.5)"/>
<ellipse cx="521.8" cy="388.6" rx="15.2" ry="8.3" fill="#dba2b6" transform="rotate(27 521.8 388.6)"/>
<path d="M514 386 q8 2 16 9 M517 392 q6 1.5 11 6" fill="none" stroke="#c98aa2" stroke-width="1.3"/>
<circle cx="512.8" cy="382.8" r="2.2" fill="#ffffff"/>
<circle cx="512.8" cy="382.8" r="0.9" fill="#9c4f6e"/>
<path d="M379.5 424 q0 -4.5 5 -4 q2.5 -2.5 5 0 q4.5 -0.5 4 4.5 l-1 11 q-6 3 -12 0z" fill="#d8201c"/>
<path d="M385.5 419 q1.5 -3 3 -1" fill="none" stroke="#2a8a2a" stroke-width="1.3"/>
<path d="M396.5 426.5 q3 -4.5 8.5 -2.5 q6 -1.5 7.5 3.5 l0.5 9 q-8 4 -16 0z" fill="#ee6a1c"/>
<path d="M404 423.5 q1 -3 3 -2" fill="none" stroke="#2a8a2a" stroke-width="1.3"/>
<path d="M389 434 q-0.5 -5 5.5 -4.5 q3 -2.5 6 0 q5.5 0 5 5 l-1 10 q-7 4 -14.5 0.5z" fill="#f6d81c"/>
<path d="M397 429.5 q1 -3.5 3.5 -2" fill="none" stroke="#6a8a1a" stroke-width="1.3"/>
<circle cx="428.8" cy="433" r="8.6" fill="#e8301c"/>
<ellipse cx="427" cy="430" rx="4" ry="3" fill="#f0503a"/>
<path d="M401.5 412.5 q3 -2 7 1 l14 8 l-3 5 l-15 -7.5 q-4 -3 -3 -6.5z" fill="#a6dc96"/>
<path d="M416 416 q6 -6 16 -3.5 q7 3 6 9 q-3 5 -10 4 q4 3 2 8 q-5 3.5 -12 -1.5 q-7 -6 -8 -11 q2 -4 6 -5z" fill="#1f7c35"/>
<path d="M418 419 q8 2 14 8 M420 424 q5 3 8 8" fill="none" stroke="#3fa04e" stroke-width="1"/>
<path d="M406 440 q5 -2 9 2 l27 5.5 q5 1.5 4 5.5 q-1 4 -6 3.5 l-26 -3 q-3 5 -8 8 q1 -5 -1 -8 q-3 -2 -4 -8 q3 2 5 -0.5z" fill="#4aa83c"/>
<path d="M417 446.5 l24 3.5 q3 1 2.5 3.5 q-0.5 2.5 -4 2.2 l-23 -3z" fill="#a8d890"/>
<path d="M419 449.5 l20 3" fill="none" stroke="#5ab04a" stroke-width="1"/>
</g>
<path d="M1047.3 702 L977.4 629 Q970.6 621.9 960.8 588 A90 90 0 1 1 1133.8 588 Q1124 621.9 1117.2 629 Z" fill="#7789a9"/>
<clipPath id="pc2"><circle cx="1047.3" cy="563" r="80.5"/></clipPath>
<g clip-path="url(#pc2)">
<rect x="955" y="470" width="190" height="190" fill="#ffffff"/>
<polygon points="993,504.5 1022,487.5 1048,505.8 1022,520" fill="#f1ede0"/>
<polygon points="993,504.5 1022,520 1022,522 993,506.5" fill="#c3c7d2"/>
<polygon points="994,511 1019,522.5 994,536" fill="#e9e9ea"/>
<polygon points="1032,483 1128,538 1128,548 1032,493" fill="#f9f8f4"/>
<polygon points="1040,488 1128,539 1128,545.5 1040,494.5" fill="#f1ede0"/>
<polygon points="1048,505.8 1128,551 1128,561.5" fill="#f6f4ec"/>
<polygon points="1085,590 1128,566 1128,610 1100,600" fill="#ebebec"/>
<polygon points="1108,575 1128,586 1128,589 1108,578" fill="#c3c7d2"/>
<polygon points="1112,566 1128,557 1128,575" fill="#f1ede0"/>
<path d="M972 584 l20 11 q4 -3 8 -1 l22 12 l0 26 l-26 -4 l-24 -14z" fill="#f3efe3"/>
<polygon points="988,596 1020,614 1002,625 970,607" fill="#f6f3ea"/>
<path d="M1018 624 l0 18" fill="none" stroke="#c9c9ce" stroke-width="2.4"/>
<polygon points="1030,619 1052,607 1072,618 1050,631" fill="#d6d3c4" stroke="#d6d3c4" stroke-width="17" stroke-linejoin="round"/>
<polygon points="1030,614 1052,602 1072,613 1050,626" fill="#ece9dc" stroke="#ece9dc" stroke-width="17" stroke-linejoin="round"/>
<polygon points="968,561.5 1048,607.2 1048,611.5 968,565.8" fill="#e3e1d5"/>
<polygon points="1048,607.2 1128,561.5 1128,565.8 1048,611.5" fill="#d6d4c6"/>
<polygon points="968,561.5 1048,507.3 1128,561.5 1048,607.2" fill="#fdfcf9"/>
</g>
<path d="M765.5 940.5 L695.6 867.5 Q688.8 860.4 679 826.5 A90 90 0 1 1 852 826.5 Q842.2 860.4 835.4 867.5 Z" fill="#7789a9"/>
<clipPath id="pc3"><circle cx="765.5" cy="801.5" r="80.5"/></clipPath>
<g clip-path="url(#pc3)">
<rect x="675" y="710" width="190" height="190" fill="url(#grid)"/>
<polygon points="745,883.5 850,825.5 850,838 772,885.5" fill="#cdcbc1"/>
<polygon points="745,883.5 850,825.5 850,827.5 749,884" fill="#e0ded4"/>
<ellipse cx="776.6" cy="799.5" rx="47.5" ry="28.5" fill="#efefef" opacity="0.9"/>
<ellipse cx="776.6" cy="799.3" rx="41" ry="23.5" fill="#f6f6f6" stroke="#7f7f82" stroke-width="1.5"/>
<ellipse cx="776.6" cy="800.3" rx="32" ry="17.5" fill="#f9f9fa" stroke="#e3e3e6" stroke-width="0.8"/>
<path d="M753.5 790 q5 -8 16 -6 q6 3 13 1.5 l7 5 l-3.5 7 q-7 5 -10.5 9 l-6 -2.5 q-3 -6 -9 -6.5 q-6 -2 -7 -7.5z" fill="#c9700f"/>
<path d="M789 788 l7 -4 l7 10 l-4 9 l-14 6 l-8 -5 q5 -5 9 -8z" fill="#c4680d"/>
<path d="M746 802 q3 -4 9 -2.5 q5 3 11 2 q5 2 6.5 6 l-6 5 q-5 0 -9 -2 q-8 -1 -11.5 -8.5z" fill="#c9700f"/>
<path d="M748 790 l10 6 q6 -1 9 3 l33 19 l-2 2 l-34 -18 q-6 1 -9 -3 l-9 -6z" fill="#f4f4f6" stroke="#dcdce0" stroke-width="0.5"/>
<path d="M795 783 l-5 9 l-22 21 l-2.5 -1.5 l21 -22 l5 -8z" fill="#ececf0" stroke="#d6d6da" stroke-width="0.5"/>
<path d="M702.5 812 l21 0 l-2.5 19 q-8 3 -16 0z" fill="#f26a1c"/>
<path d="M700.5 802 l25 0 l-1.5 11 q-11 3 -22 0z" fill="#ffffff"/>
<ellipse cx="713" cy="801" rx="13.3" ry="8.6" fill="#125548"/>
<ellipse cx="713" cy="799.6" rx="10.5" ry="6.3" fill="#17614f"/>
<path d="M703 799.6 h20 M713 793.5 v12" fill="none" stroke="#2b7a66" stroke-width="0.6"/>
<path d="M704 818 h18.5 M704.5 823 h17.5" fill="none" stroke="#f58a46" stroke-width="0.8"/>
</g>
</svg>
<div class="lb" style="left:696px;top:48px;width:269px;">员工穿戴规范检测</div>
<div class="lb" style="left:310px;top:232px;width:295px;">生熟食区域分离监测</div>
<div class="lb" style="left:926px;top:388px;width:243px;">客座利用率分析</div>
<div class="lb" style="left:642px;top:626px;width:242px;">客座区卫生检测</div>
</body>
</html>
